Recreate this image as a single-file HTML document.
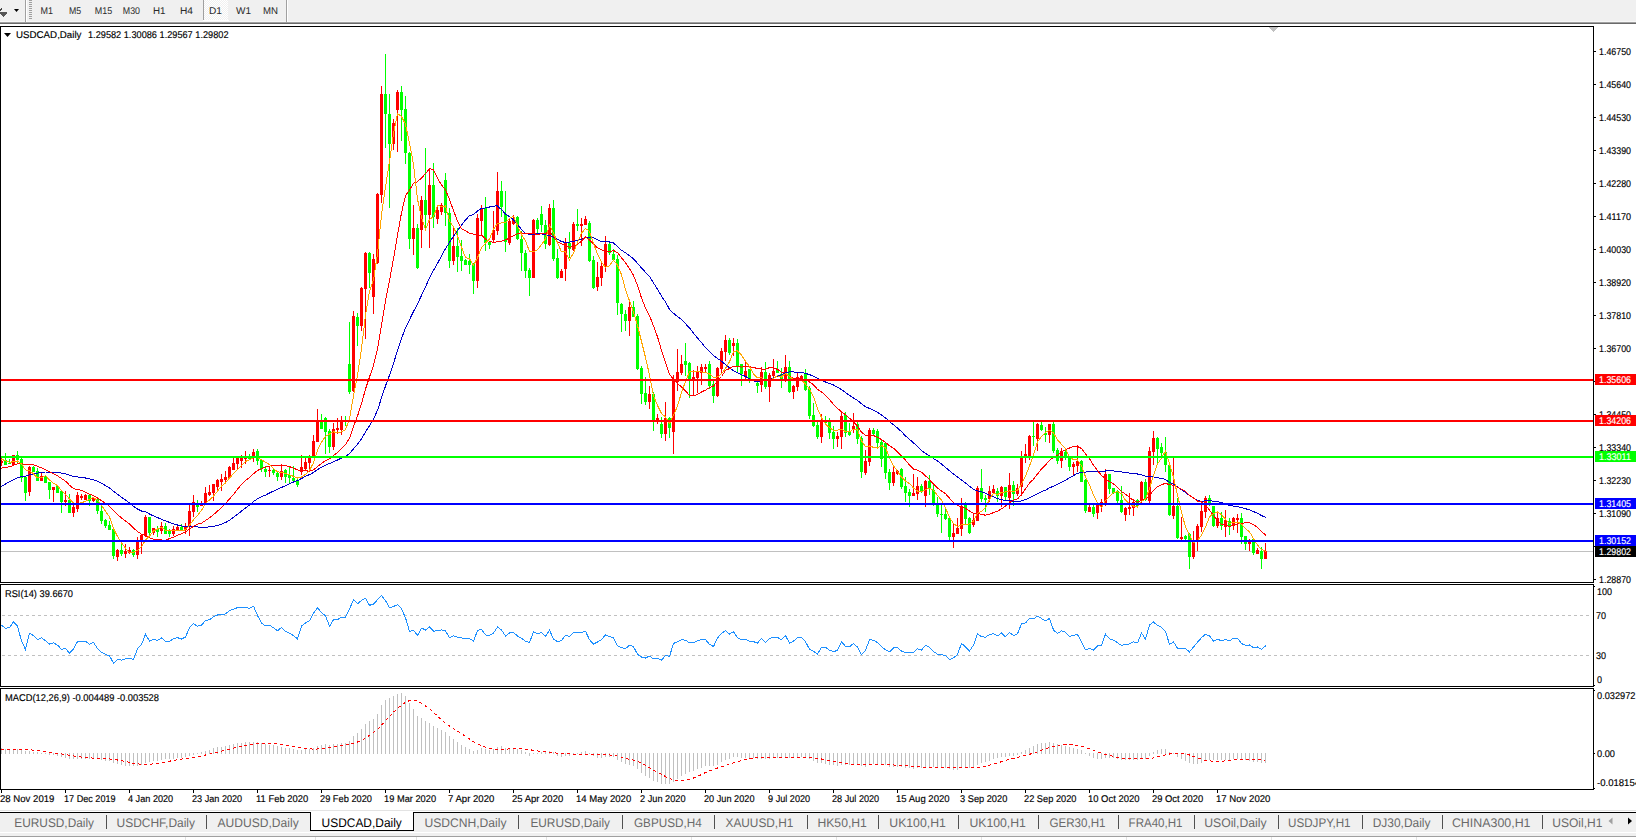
<!DOCTYPE html><html><head><meta charset="utf-8"><style>html,body{margin:0;padding:0;background:#fff;overflow:hidden}svg{display:block}text{font-family:"Liberation Sans",Arial,sans-serif;text-rendering:geometricPrecision;stroke:currentColor;stroke-width:0.15px}</style></head><body>
<svg width="1636" height="840" viewBox="0 0 1636 840" shape-rendering="crispEdges">
<rect x="0" y="0" width="1636" height="22" fill="#f0f0f0"/>
<rect x="0" y="21" width="1636" height="1" fill="#f7f7f7"/>
<rect x="0" y="22" width="1636" height="1" fill="#a0a0a0"/>
<rect x="0" y="23" width="1636" height="1" fill="#6a6a6a"/>
<path d="M0 11 L2 9 L2 8 L1 8 L0 9 Z" fill="#444"/>
<path d="M0 12 L7 12 L7 14 L3.5 17 L0 14 Z" fill="#555"/>
<path d="M14 9 L19 9 L16.5 12 Z" fill="#000" shape-rendering="auto"/>
<rect x="25" y="0" width="1" height="22" fill="#a0a0a0"/><rect x="26" y="0" width="1" height="22" fill="#fff"/>
<rect x="203" y="0" width="1" height="20" fill="#a0a0a0"/><rect x="204" y="0" width="1" height="20" fill="#fff"/>
<rect x="286" y="0" width="1" height="22" fill="#a0a0a0"/><rect x="287" y="0" width="1" height="22" fill="#fff"/>
<rect x="203" y="20" width="26" height="1" fill="#fff"/>
<rect x="29" y="0" width="3" height="1" fill="#a0a0a0"/>
<rect x="29" y="2" width="3" height="1" fill="#a0a0a0"/>
<rect x="29" y="4" width="3" height="1" fill="#a0a0a0"/>
<rect x="29" y="6" width="3" height="1" fill="#a0a0a0"/>
<rect x="29" y="8" width="3" height="1" fill="#a0a0a0"/>
<rect x="29" y="10" width="3" height="1" fill="#a0a0a0"/>
<rect x="29" y="12" width="3" height="1" fill="#a0a0a0"/>
<rect x="29" y="14" width="3" height="1" fill="#a0a0a0"/>
<rect x="29" y="16" width="3" height="1" fill="#a0a0a0"/>
<rect x="29" y="18" width="3" height="1" fill="#a0a0a0"/>
<defs><pattern id="dith" width="2" height="2" patternUnits="userSpaceOnUse"><rect width="2" height="2" fill="#f0f0f0"/><rect width="1" height="1" fill="#fff"/><rect x="1" y="1" width="1" height="1" fill="#fff"/></pattern></defs>
<rect x="204" y="0" width="24" height="20" fill="url(#dith)"/>
<text x="40.6" y="14" font-size="9.8" fill="#2a2a2a" color="#2a2a2a" textLength="12.5" lengthAdjust="spacingAndGlyphs" style="stroke-width:0">M1</text>
<text x="68.9" y="14" font-size="9.8" fill="#2a2a2a" color="#2a2a2a" textLength="12.2" lengthAdjust="spacingAndGlyphs" style="stroke-width:0">M5</text>
<text x="94.8" y="14" font-size="9.8" fill="#2a2a2a" color="#2a2a2a" textLength="17.4" lengthAdjust="spacingAndGlyphs" style="stroke-width:0">M15</text>
<text x="122.8" y="14" font-size="9.8" fill="#2a2a2a" color="#2a2a2a" textLength="17.2" lengthAdjust="spacingAndGlyphs" style="stroke-width:0">M30</text>
<text x="153" y="14" font-size="9.8" fill="#2a2a2a" color="#2a2a2a" textLength="12.5" lengthAdjust="spacingAndGlyphs" style="stroke-width:0">H1</text>
<text x="180" y="14" font-size="9.8" fill="#2a2a2a" color="#2a2a2a" textLength="13" lengthAdjust="spacingAndGlyphs" style="stroke-width:0">H4</text>
<text x="209" y="14" font-size="9.8" fill="#2a2a2a" color="#2a2a2a" textLength="13" lengthAdjust="spacingAndGlyphs" style="stroke-width:0">D1</text>
<text x="236" y="14" font-size="9.8" fill="#2a2a2a" color="#2a2a2a" textLength="15" lengthAdjust="spacingAndGlyphs" style="stroke-width:0">W1</text>
<text x="263" y="14" font-size="9.8" fill="#2a2a2a" color="#2a2a2a" textLength="15" lengthAdjust="spacingAndGlyphs" style="stroke-width:0">MN</text>
<rect x="0" y="24" width="1636" height="2" fill="#fff"/>
<rect x="0" y="26" width="1594" height="1" fill="#000"/>
<rect x="0" y="26" width="1" height="557" fill="#000"/>
<rect x="1593" y="26" width="1" height="557" fill="#000"/>
<rect x="0" y="582" width="1594" height="1" fill="#000"/>
<rect x="0" y="584" width="1594" height="1" fill="#000"/>
<rect x="0" y="584" width="1" height="103" fill="#000"/>
<rect x="1593" y="584" width="1" height="103" fill="#000"/>
<rect x="0" y="686" width="1594" height="1" fill="#000"/>
<rect x="0" y="688" width="1594" height="1" fill="#000"/>
<rect x="0" y="688" width="1" height="102" fill="#000"/>
<rect x="1593" y="688" width="1" height="102" fill="#000"/>
<rect x="0" y="789" width="1594" height="1" fill="#000"/>
<defs><clipPath id="cm"><rect x="1" y="27" width="1592" height="555"/></clipPath><clipPath id="cr"><rect x="1" y="585" width="1592" height="101"/></clipPath><clipPath id="cc"><rect x="1" y="689" width="1592" height="100"/></clipPath></defs>
<g clip-path="url(#cm)">
<rect x="1" y="551" width="1592" height="1" fill="#c0c0c0"/>
<rect x="1" y="458" width="1" height="8" fill="#ff0000"/><rect x="0" y="461" width="3" height="2" fill="#ff0000"/>
<rect x="5" y="453" width="1" height="12" fill="#00ff00"/><rect x="4" y="460" width="3" height="5" fill="#00ff00"/>
<rect x="9" y="459" width="1" height="5" fill="#00ff00"/><rect x="8" y="463" width="3" height="1" fill="#00ff00"/>
<rect x="13" y="455" width="1" height="10" fill="#ff0000"/><rect x="12" y="455" width="3" height="10" fill="#ff0000"/>
<rect x="17" y="451" width="1" height="12" fill="#00ff00"/><rect x="16" y="455" width="3" height="5" fill="#00ff00"/>
<rect x="21" y="458" width="1" height="24" fill="#00ff00"/><rect x="20" y="459" width="3" height="19" fill="#00ff00"/>
<rect x="25" y="477" width="1" height="24" fill="#00ff00"/><rect x="24" y="477" width="3" height="16" fill="#00ff00"/>
<rect x="29" y="466" width="1" height="30" fill="#ff0000"/><rect x="28" y="467" width="3" height="25" fill="#ff0000"/>
<rect x="33" y="466" width="1" height="6" fill="#00ff00"/><rect x="32" y="467" width="3" height="5" fill="#00ff00"/>
<rect x="37" y="468" width="1" height="13" fill="#00ff00"/><rect x="36" y="471" width="3" height="10" fill="#00ff00"/>
<rect x="41" y="473" width="1" height="8" fill="#ff0000"/><rect x="40" y="476" width="3" height="5" fill="#ff0000"/>
<rect x="45" y="475" width="1" height="8" fill="#00ff00"/><rect x="44" y="476" width="3" height="7" fill="#00ff00"/>
<rect x="49" y="482" width="1" height="17" fill="#00ff00"/><rect x="48" y="482" width="3" height="8" fill="#00ff00"/>
<rect x="53" y="487" width="1" height="15" fill="#ff0000"/><rect x="52" y="487" width="3" height="3" fill="#ff0000"/>
<rect x="57" y="486" width="1" height="7" fill="#00ff00"/><rect x="56" y="486" width="3" height="7" fill="#00ff00"/>
<rect x="61" y="491" width="1" height="22" fill="#00ff00"/><rect x="60" y="491" width="3" height="11" fill="#00ff00"/>
<rect x="65" y="491" width="1" height="15" fill="#ff0000"/><rect x="64" y="500" width="3" height="2" fill="#ff0000"/>
<rect x="69" y="494" width="1" height="19" fill="#00ff00"/><rect x="68" y="500" width="3" height="13" fill="#00ff00"/>
<rect x="73" y="505" width="1" height="12" fill="#ff0000"/><rect x="72" y="507" width="3" height="6" fill="#ff0000"/>
<rect x="77" y="492" width="1" height="20" fill="#ff0000"/><rect x="76" y="495" width="3" height="14" fill="#ff0000"/>
<rect x="81" y="494" width="1" height="6" fill="#ff0000"/><rect x="80" y="496" width="3" height="2" fill="#ff0000"/>
<rect x="85" y="494" width="1" height="6" fill="#ff0000"/><rect x="84" y="495" width="3" height="5" fill="#ff0000"/>
<rect x="89" y="494" width="1" height="12" fill="#00ff00"/><rect x="88" y="495" width="3" height="6" fill="#00ff00"/>
<rect x="93" y="497" width="1" height="5" fill="#ff0000"/><rect x="92" y="498" width="3" height="3" fill="#ff0000"/>
<rect x="97" y="498" width="1" height="16" fill="#00ff00"/><rect x="96" y="499" width="3" height="12" fill="#00ff00"/>
<rect x="101" y="505" width="1" height="19" fill="#00ff00"/><rect x="100" y="511" width="3" height="10" fill="#00ff00"/>
<rect x="105" y="519" width="1" height="9" fill="#00ff00"/><rect x="104" y="520" width="3" height="6" fill="#00ff00"/>
<rect x="109" y="521" width="1" height="9" fill="#00ff00"/><rect x="108" y="525" width="3" height="5" fill="#00ff00"/>
<rect x="113" y="529" width="1" height="30" fill="#00ff00"/><rect x="112" y="529" width="3" height="27" fill="#00ff00"/>
<rect x="117" y="549" width="1" height="12" fill="#ff0000"/><rect x="116" y="550" width="3" height="7" fill="#ff0000"/>
<rect x="121" y="543" width="1" height="13" fill="#00ff00"/><rect x="120" y="550" width="3" height="4" fill="#00ff00"/>
<rect x="125" y="544" width="1" height="14" fill="#ff0000"/><rect x="124" y="551" width="3" height="3" fill="#ff0000"/>
<rect x="129" y="547" width="1" height="7" fill="#ff0000"/><rect x="128" y="550" width="3" height="3" fill="#ff0000"/>
<rect x="133" y="549" width="1" height="8" fill="#00ff00"/><rect x="132" y="550" width="3" height="5" fill="#00ff00"/>
<rect x="137" y="537" width="1" height="22" fill="#ff0000"/><rect x="136" y="541" width="3" height="14" fill="#ff0000"/>
<rect x="141" y="534" width="1" height="20" fill="#ff0000"/><rect x="140" y="535" width="3" height="6" fill="#ff0000"/>
<rect x="145" y="515" width="1" height="22" fill="#ff0000"/><rect x="144" y="517" width="3" height="18" fill="#ff0000"/>
<rect x="149" y="517" width="1" height="18" fill="#00ff00"/><rect x="148" y="517" width="3" height="16" fill="#00ff00"/>
<rect x="153" y="528" width="1" height="7" fill="#ff0000"/><rect x="152" y="528" width="3" height="5" fill="#ff0000"/>
<rect x="157" y="526" width="1" height="11" fill="#00ff00"/><rect x="156" y="529" width="3" height="3" fill="#00ff00"/>
<rect x="161" y="522" width="1" height="12" fill="#ff0000"/><rect x="160" y="526" width="3" height="5" fill="#ff0000"/>
<rect x="165" y="523" width="1" height="11" fill="#00ff00"/><rect x="164" y="526" width="3" height="8" fill="#00ff00"/>
<rect x="169" y="529" width="1" height="8" fill="#00ff00"/><rect x="168" y="531" width="3" height="3" fill="#00ff00"/>
<rect x="173" y="526" width="1" height="10" fill="#ff0000"/><rect x="172" y="529" width="3" height="5" fill="#ff0000"/>
<rect x="177" y="525" width="1" height="6" fill="#ff0000"/><rect x="176" y="527" width="3" height="3" fill="#ff0000"/>
<rect x="181" y="524" width="1" height="7" fill="#00ff00"/><rect x="180" y="527" width="3" height="4" fill="#00ff00"/>
<rect x="185" y="523" width="1" height="11" fill="#ff0000"/><rect x="184" y="527" width="3" height="3" fill="#ff0000"/>
<rect x="189" y="505" width="1" height="31" fill="#ff0000"/><rect x="188" y="511" width="3" height="16" fill="#ff0000"/>
<rect x="193" y="495" width="1" height="22" fill="#ff0000"/><rect x="192" y="502" width="3" height="10" fill="#ff0000"/>
<rect x="197" y="500" width="1" height="12" fill="#00ff00"/><rect x="196" y="503" width="3" height="4" fill="#00ff00"/>
<rect x="201" y="501" width="1" height="5" fill="#ff0000"/><rect x="200" y="504" width="3" height="2" fill="#ff0000"/>
<rect x="205" y="487" width="1" height="18" fill="#ff0000"/><rect x="204" y="493" width="3" height="11" fill="#ff0000"/>
<rect x="209" y="485" width="1" height="11" fill="#ff0000"/><rect x="208" y="492" width="3" height="3" fill="#ff0000"/>
<rect x="213" y="484" width="1" height="17" fill="#ff0000"/><rect x="212" y="484" width="3" height="9" fill="#ff0000"/>
<rect x="217" y="479" width="1" height="11" fill="#ff0000"/><rect x="216" y="480" width="3" height="7" fill="#ff0000"/>
<rect x="221" y="474" width="1" height="17" fill="#ff0000"/><rect x="220" y="479" width="3" height="3" fill="#ff0000"/>
<rect x="225" y="471" width="1" height="11" fill="#ff0000"/><rect x="224" y="477" width="3" height="3" fill="#ff0000"/>
<rect x="229" y="466" width="1" height="13" fill="#ff0000"/><rect x="228" y="467" width="3" height="11" fill="#ff0000"/>
<rect x="233" y="458" width="1" height="12" fill="#ff0000"/><rect x="232" y="463" width="3" height="7" fill="#ff0000"/>
<rect x="237" y="458" width="1" height="11" fill="#ff0000"/><rect x="236" y="458" width="3" height="6" fill="#ff0000"/>
<rect x="241" y="455" width="1" height="13" fill="#ff0000"/><rect x="240" y="458" width="3" height="3" fill="#ff0000"/>
<rect x="245" y="451" width="1" height="13" fill="#ff0000"/><rect x="244" y="458" width="3" height="1" fill="#ff0000"/>
<rect x="249" y="454" width="1" height="5" fill="#00ff00"/><rect x="248" y="456" width="3" height="3" fill="#00ff00"/>
<rect x="253" y="449" width="1" height="13" fill="#ff0000"/><rect x="252" y="452" width="3" height="4" fill="#ff0000"/>
<rect x="257" y="449" width="1" height="16" fill="#00ff00"/><rect x="256" y="451" width="3" height="10" fill="#00ff00"/>
<rect x="261" y="460" width="1" height="12" fill="#00ff00"/><rect x="260" y="460" width="3" height="9" fill="#00ff00"/>
<rect x="265" y="466" width="1" height="11" fill="#00ff00"/><rect x="264" y="469" width="3" height="3" fill="#00ff00"/>
<rect x="269" y="466" width="1" height="11" fill="#ff0000"/><rect x="268" y="470" width="3" height="1" fill="#ff0000"/>
<rect x="273" y="469" width="1" height="6" fill="#00ff00"/><rect x="272" y="470" width="3" height="3" fill="#00ff00"/>
<rect x="277" y="472" width="1" height="9" fill="#00ff00"/><rect x="276" y="473" width="3" height="4" fill="#00ff00"/>
<rect x="281" y="464" width="1" height="16" fill="#ff0000"/><rect x="280" y="471" width="3" height="6" fill="#ff0000"/>
<rect x="285" y="469" width="1" height="14" fill="#00ff00"/><rect x="284" y="470" width="3" height="7" fill="#00ff00"/>
<rect x="289" y="467" width="1" height="16" fill="#00ff00"/><rect x="288" y="475" width="3" height="3" fill="#00ff00"/>
<rect x="293" y="466" width="1" height="15" fill="#00ff00"/><rect x="292" y="478" width="3" height="3" fill="#00ff00"/>
<rect x="297" y="479" width="1" height="8" fill="#00ff00"/><rect x="296" y="480" width="3" height="5" fill="#00ff00"/>
<rect x="301" y="455" width="1" height="20" fill="#ff0000"/><rect x="300" y="467" width="3" height="5" fill="#ff0000"/>
<rect x="305" y="458" width="1" height="12" fill="#ff0000"/><rect x="304" y="462" width="3" height="7" fill="#ff0000"/>
<rect x="309" y="455" width="1" height="14" fill="#ff0000"/><rect x="308" y="458" width="3" height="5" fill="#ff0000"/>
<rect x="313" y="435" width="1" height="22" fill="#ff0000"/><rect x="312" y="441" width="3" height="16" fill="#ff0000"/>
<rect x="317" y="409" width="1" height="33" fill="#ff0000"/><rect x="316" y="422" width="3" height="20" fill="#ff0000"/>
<rect x="321" y="414" width="1" height="15" fill="#00ff00"/><rect x="320" y="421" width="3" height="8" fill="#00ff00"/>
<rect x="325" y="417" width="1" height="37" fill="#00ff00"/><rect x="324" y="418" width="3" height="14" fill="#00ff00"/>
<rect x="329" y="429" width="1" height="24" fill="#00ff00"/><rect x="328" y="431" width="3" height="16" fill="#00ff00"/>
<rect x="333" y="423" width="1" height="27" fill="#ff0000"/><rect x="332" y="429" width="3" height="18" fill="#ff0000"/>
<rect x="337" y="418" width="1" height="16" fill="#ff0000"/><rect x="336" y="428" width="3" height="2" fill="#ff0000"/>
<rect x="341" y="416" width="1" height="19" fill="#ff0000"/><rect x="340" y="422" width="3" height="8" fill="#ff0000"/>
<rect x="345" y="416" width="1" height="10" fill="#00ff00"/><rect x="344" y="420" width="3" height="2" fill="#00ff00"/>
<rect x="349" y="322" width="1" height="72" fill="#00ff00"/><rect x="348" y="364" width="3" height="28" fill="#00ff00"/>
<rect x="353" y="311" width="1" height="81" fill="#ff0000"/><rect x="352" y="316" width="3" height="75" fill="#ff0000"/>
<rect x="357" y="313" width="1" height="33" fill="#00ff00"/><rect x="356" y="317" width="3" height="9" fill="#00ff00"/>
<rect x="361" y="287" width="1" height="44" fill="#ff0000"/><rect x="360" y="288" width="3" height="38" fill="#ff0000"/>
<rect x="365" y="252" width="1" height="87" fill="#ff0000"/><rect x="364" y="253" width="3" height="36" fill="#ff0000"/>
<rect x="369" y="252" width="1" height="36" fill="#00ff00"/><rect x="368" y="253" width="3" height="20" fill="#00ff00"/>
<rect x="373" y="254" width="1" height="60" fill="#ff0000"/><rect x="372" y="259" width="3" height="38" fill="#ff0000"/>
<rect x="377" y="193" width="1" height="71" fill="#ff0000"/><rect x="376" y="194" width="3" height="69" fill="#ff0000"/>
<rect x="381" y="86" width="1" height="117" fill="#ff0000"/><rect x="380" y="94" width="3" height="101" fill="#ff0000"/>
<rect x="385" y="54" width="1" height="94" fill="#00ff00"/><rect x="384" y="94" width="3" height="20" fill="#00ff00"/>
<rect x="389" y="94" width="1" height="114" fill="#00ff00"/><rect x="388" y="114" width="3" height="30" fill="#00ff00"/>
<rect x="393" y="119" width="1" height="31" fill="#ff0000"/><rect x="392" y="123" width="3" height="21" fill="#ff0000"/>
<rect x="397" y="90" width="1" height="62" fill="#ff0000"/><rect x="396" y="92" width="3" height="18" fill="#ff0000"/>
<rect x="401" y="86" width="1" height="55" fill="#00ff00"/><rect x="400" y="92" width="3" height="18" fill="#00ff00"/>
<rect x="405" y="96" width="1" height="68" fill="#00ff00"/><rect x="404" y="109" width="3" height="44" fill="#00ff00"/>
<rect x="409" y="152" width="1" height="97" fill="#00ff00"/><rect x="408" y="153" width="3" height="86" fill="#00ff00"/>
<rect x="413" y="205" width="1" height="50" fill="#ff0000"/><rect x="412" y="228" width="3" height="11" fill="#ff0000"/>
<rect x="417" y="224" width="1" height="45" fill="#00ff00"/><rect x="416" y="228" width="3" height="40" fill="#00ff00"/>
<rect x="421" y="196" width="1" height="52" fill="#ff0000"/><rect x="420" y="200" width="3" height="30" fill="#ff0000"/>
<rect x="425" y="148" width="1" height="82" fill="#00ff00"/><rect x="424" y="200" width="3" height="15" fill="#00ff00"/>
<rect x="429" y="169" width="1" height="79" fill="#ff0000"/><rect x="428" y="185" width="3" height="30" fill="#ff0000"/>
<rect x="433" y="163" width="1" height="65" fill="#00ff00"/><rect x="432" y="185" width="3" height="32" fill="#00ff00"/>
<rect x="437" y="205" width="1" height="19" fill="#ff0000"/><rect x="436" y="210" width="3" height="9" fill="#ff0000"/>
<rect x="441" y="203" width="1" height="12" fill="#ff0000"/><rect x="440" y="205" width="3" height="7" fill="#ff0000"/>
<rect x="445" y="173" width="1" height="53" fill="#00ff00"/><rect x="444" y="180" width="3" height="33" fill="#00ff00"/>
<rect x="449" y="208" width="1" height="60" fill="#00ff00"/><rect x="448" y="213" width="3" height="48" fill="#00ff00"/>
<rect x="453" y="228" width="1" height="37" fill="#ff0000"/><rect x="452" y="246" width="3" height="15" fill="#ff0000"/>
<rect x="457" y="228" width="1" height="44" fill="#00ff00"/><rect x="456" y="246" width="3" height="11" fill="#00ff00"/>
<rect x="461" y="240" width="1" height="31" fill="#00ff00"/><rect x="460" y="256" width="3" height="5" fill="#00ff00"/>
<rect x="465" y="259" width="1" height="6" fill="#00ff00"/><rect x="464" y="260" width="3" height="5" fill="#00ff00"/>
<rect x="469" y="254" width="1" height="20" fill="#00ff00"/><rect x="468" y="261" width="3" height="4" fill="#00ff00"/>
<rect x="473" y="263" width="1" height="31" fill="#00ff00"/><rect x="472" y="264" width="3" height="17" fill="#00ff00"/>
<rect x="477" y="214" width="1" height="74" fill="#ff0000"/><rect x="476" y="218" width="3" height="63" fill="#ff0000"/>
<rect x="481" y="205" width="1" height="30" fill="#ff0000"/><rect x="480" y="209" width="3" height="12" fill="#ff0000"/>
<rect x="485" y="197" width="1" height="54" fill="#00ff00"/><rect x="484" y="208" width="3" height="35" fill="#00ff00"/>
<rect x="489" y="241" width="1" height="8" fill="#00ff00"/><rect x="488" y="242" width="3" height="3" fill="#00ff00"/>
<rect x="493" y="211" width="1" height="32" fill="#ff0000"/><rect x="492" y="230" width="3" height="10" fill="#ff0000"/>
<rect x="497" y="172" width="1" height="63" fill="#ff0000"/><rect x="496" y="191" width="3" height="40" fill="#ff0000"/>
<rect x="501" y="181" width="1" height="36" fill="#00ff00"/><rect x="500" y="191" width="3" height="16" fill="#00ff00"/>
<rect x="505" y="191" width="1" height="61" fill="#00ff00"/><rect x="504" y="214" width="3" height="28" fill="#00ff00"/>
<rect x="509" y="218" width="1" height="27" fill="#ff0000"/><rect x="508" y="221" width="3" height="22" fill="#ff0000"/>
<rect x="513" y="215" width="1" height="10" fill="#ff0000"/><rect x="512" y="219" width="3" height="5" fill="#ff0000"/>
<rect x="517" y="216" width="1" height="24" fill="#00ff00"/><rect x="516" y="217" width="3" height="22" fill="#00ff00"/>
<rect x="521" y="231" width="1" height="40" fill="#00ff00"/><rect x="520" y="239" width="3" height="14" fill="#00ff00"/>
<rect x="525" y="250" width="1" height="28" fill="#00ff00"/><rect x="524" y="253" width="3" height="18" fill="#00ff00"/>
<rect x="529" y="268" width="1" height="28" fill="#00ff00"/><rect x="528" y="270" width="3" height="8" fill="#00ff00"/>
<rect x="533" y="219" width="1" height="59" fill="#ff0000"/><rect x="532" y="220" width="3" height="58" fill="#ff0000"/>
<rect x="537" y="218" width="1" height="15" fill="#00ff00"/><rect x="536" y="220" width="3" height="9" fill="#00ff00"/>
<rect x="541" y="206" width="1" height="26" fill="#00ff00"/><rect x="540" y="214" width="3" height="11" fill="#00ff00"/>
<rect x="545" y="220" width="1" height="29" fill="#00ff00"/><rect x="544" y="225" width="3" height="19" fill="#00ff00"/>
<rect x="549" y="204" width="1" height="42" fill="#ff0000"/><rect x="548" y="208" width="3" height="37" fill="#ff0000"/>
<rect x="553" y="200" width="1" height="61" fill="#00ff00"/><rect x="552" y="208" width="3" height="51" fill="#00ff00"/>
<rect x="557" y="249" width="1" height="30" fill="#00ff00"/><rect x="556" y="258" width="3" height="20" fill="#00ff00"/>
<rect x="561" y="269" width="1" height="9" fill="#ff0000"/><rect x="560" y="271" width="3" height="7" fill="#ff0000"/>
<rect x="565" y="238" width="1" height="43" fill="#ff0000"/><rect x="564" y="242" width="3" height="27" fill="#ff0000"/>
<rect x="569" y="232" width="1" height="26" fill="#00ff00"/><rect x="568" y="243" width="3" height="6" fill="#00ff00"/>
<rect x="573" y="222" width="1" height="29" fill="#ff0000"/><rect x="572" y="224" width="3" height="26" fill="#ff0000"/>
<rect x="577" y="209" width="1" height="22" fill="#00ff00"/><rect x="576" y="224" width="3" height="2" fill="#00ff00"/>
<rect x="581" y="218" width="1" height="28" fill="#ff0000"/><rect x="580" y="224" width="3" height="2" fill="#ff0000"/>
<rect x="585" y="216" width="1" height="9" fill="#ff0000"/><rect x="584" y="219" width="3" height="6" fill="#ff0000"/>
<rect x="589" y="221" width="1" height="41" fill="#00ff00"/><rect x="588" y="223" width="3" height="38" fill="#00ff00"/>
<rect x="593" y="256" width="1" height="33" fill="#00ff00"/><rect x="592" y="260" width="3" height="28" fill="#00ff00"/>
<rect x="597" y="262" width="1" height="29" fill="#ff0000"/><rect x="596" y="277" width="3" height="10" fill="#ff0000"/>
<rect x="601" y="262" width="1" height="24" fill="#ff0000"/><rect x="600" y="266" width="3" height="12" fill="#ff0000"/>
<rect x="605" y="236" width="1" height="36" fill="#ff0000"/><rect x="604" y="244" width="3" height="22" fill="#ff0000"/>
<rect x="609" y="242" width="1" height="13" fill="#00ff00"/><rect x="608" y="244" width="3" height="9" fill="#00ff00"/>
<rect x="613" y="249" width="1" height="12" fill="#00ff00"/><rect x="612" y="254" width="3" height="6" fill="#00ff00"/>
<rect x="617" y="255" width="1" height="60" fill="#00ff00"/><rect x="616" y="259" width="3" height="44" fill="#00ff00"/>
<rect x="621" y="303" width="1" height="29" fill="#00ff00"/><rect x="620" y="304" width="3" height="10" fill="#00ff00"/>
<rect x="625" y="310" width="1" height="21" fill="#00ff00"/><rect x="624" y="314" width="3" height="7" fill="#00ff00"/>
<rect x="629" y="302" width="1" height="34" fill="#ff0000"/><rect x="628" y="307" width="3" height="14" fill="#ff0000"/>
<rect x="633" y="301" width="1" height="16" fill="#00ff00"/><rect x="632" y="307" width="3" height="10" fill="#00ff00"/>
<rect x="637" y="314" width="1" height="56" fill="#00ff00"/><rect x="636" y="316" width="3" height="53" fill="#00ff00"/>
<rect x="641" y="366" width="1" height="38" fill="#00ff00"/><rect x="640" y="368" width="3" height="26" fill="#00ff00"/>
<rect x="645" y="377" width="1" height="28" fill="#00ff00"/><rect x="644" y="393" width="3" height="9" fill="#00ff00"/>
<rect x="649" y="386" width="1" height="23" fill="#ff0000"/><rect x="648" y="394" width="3" height="8" fill="#ff0000"/>
<rect x="653" y="392" width="1" height="39" fill="#00ff00"/><rect x="652" y="394" width="3" height="27" fill="#00ff00"/>
<rect x="657" y="414" width="1" height="10" fill="#ff0000"/><rect x="656" y="418" width="3" height="3" fill="#ff0000"/>
<rect x="661" y="417" width="1" height="21" fill="#00ff00"/><rect x="660" y="424" width="3" height="10" fill="#00ff00"/>
<rect x="665" y="402" width="1" height="39" fill="#ff0000"/><rect x="664" y="418" width="3" height="16" fill="#ff0000"/>
<rect x="669" y="417" width="1" height="21" fill="#00ff00"/><rect x="668" y="418" width="3" height="10" fill="#00ff00"/>
<rect x="673" y="375" width="1" height="79" fill="#ff0000"/><rect x="672" y="379" width="3" height="53" fill="#ff0000"/>
<rect x="677" y="349" width="1" height="42" fill="#ff0000"/><rect x="676" y="372" width="3" height="10" fill="#ff0000"/>
<rect x="681" y="355" width="1" height="20" fill="#ff0000"/><rect x="680" y="364" width="3" height="9" fill="#ff0000"/>
<rect x="685" y="343" width="1" height="33" fill="#00ff00"/><rect x="684" y="361" width="3" height="4" fill="#00ff00"/>
<rect x="689" y="362" width="1" height="36" fill="#00ff00"/><rect x="688" y="363" width="3" height="16" fill="#00ff00"/>
<rect x="693" y="370" width="1" height="26" fill="#ff0000"/><rect x="692" y="377" width="3" height="2" fill="#ff0000"/>
<rect x="697" y="366" width="1" height="27" fill="#ff0000"/><rect x="696" y="371" width="3" height="7" fill="#ff0000"/>
<rect x="701" y="364" width="1" height="21" fill="#ff0000"/><rect x="700" y="367" width="3" height="6" fill="#ff0000"/>
<rect x="705" y="364" width="1" height="9" fill="#ff0000"/><rect x="704" y="367" width="3" height="2" fill="#ff0000"/>
<rect x="709" y="361" width="1" height="28" fill="#00ff00"/><rect x="708" y="364" width="3" height="22" fill="#00ff00"/>
<rect x="713" y="379" width="1" height="24" fill="#00ff00"/><rect x="712" y="384" width="3" height="12" fill="#00ff00"/>
<rect x="717" y="367" width="1" height="30" fill="#ff0000"/><rect x="716" y="368" width="3" height="28" fill="#ff0000"/>
<rect x="721" y="348" width="1" height="25" fill="#ff0000"/><rect x="720" y="351" width="3" height="18" fill="#ff0000"/>
<rect x="725" y="335" width="1" height="26" fill="#ff0000"/><rect x="724" y="340" width="3" height="12" fill="#ff0000"/>
<rect x="729" y="338" width="1" height="17" fill="#00ff00"/><rect x="728" y="340" width="3" height="13" fill="#00ff00"/>
<rect x="733" y="338" width="1" height="18" fill="#ff0000"/><rect x="732" y="343" width="3" height="3" fill="#ff0000"/>
<rect x="737" y="339" width="1" height="33" fill="#00ff00"/><rect x="736" y="343" width="3" height="23" fill="#00ff00"/>
<rect x="741" y="364" width="1" height="22" fill="#00ff00"/><rect x="740" y="364" width="3" height="10" fill="#00ff00"/>
<rect x="745" y="362" width="1" height="17" fill="#ff0000"/><rect x="744" y="371" width="3" height="6" fill="#ff0000"/>
<rect x="749" y="369" width="1" height="14" fill="#00ff00"/><rect x="748" y="369" width="3" height="10" fill="#00ff00"/>
<rect x="753" y="380" width="1" height="1" fill="#00ff00"/><rect x="752" y="380" width="3" height="1" fill="#00ff00"/>
<rect x="757" y="382" width="1" height="11" fill="#00ff00"/><rect x="756" y="383" width="3" height="3" fill="#00ff00"/>
<rect x="761" y="367" width="1" height="25" fill="#ff0000"/><rect x="760" y="372" width="3" height="13" fill="#ff0000"/>
<rect x="765" y="362" width="1" height="27" fill="#00ff00"/><rect x="764" y="372" width="3" height="15" fill="#00ff00"/>
<rect x="769" y="373" width="1" height="29" fill="#ff0000"/><rect x="768" y="375" width="3" height="12" fill="#ff0000"/>
<rect x="773" y="359" width="1" height="18" fill="#ff0000"/><rect x="772" y="371" width="3" height="5" fill="#ff0000"/>
<rect x="777" y="361" width="1" height="12" fill="#00ff00"/><rect x="776" y="370" width="3" height="3" fill="#00ff00"/>
<rect x="781" y="368" width="1" height="20" fill="#00ff00"/><rect x="780" y="374" width="3" height="5" fill="#00ff00"/>
<rect x="785" y="355" width="1" height="27" fill="#ff0000"/><rect x="784" y="367" width="3" height="13" fill="#ff0000"/>
<rect x="789" y="361" width="1" height="32" fill="#00ff00"/><rect x="788" y="367" width="3" height="25" fill="#00ff00"/>
<rect x="793" y="385" width="1" height="14" fill="#ff0000"/><rect x="792" y="386" width="3" height="6" fill="#ff0000"/>
<rect x="797" y="373" width="1" height="18" fill="#ff0000"/><rect x="796" y="377" width="3" height="10" fill="#ff0000"/>
<rect x="801" y="375" width="1" height="6" fill="#ff0000"/><rect x="800" y="376" width="3" height="4" fill="#ff0000"/>
<rect x="805" y="369" width="1" height="22" fill="#00ff00"/><rect x="804" y="374" width="3" height="16" fill="#00ff00"/>
<rect x="809" y="386" width="1" height="33" fill="#00ff00"/><rect x="808" y="388" width="3" height="28" fill="#00ff00"/>
<rect x="813" y="403" width="1" height="24" fill="#00ff00"/><rect x="812" y="415" width="3" height="11" fill="#00ff00"/>
<rect x="817" y="422" width="1" height="17" fill="#00ff00"/><rect x="816" y="425" width="3" height="12" fill="#00ff00"/>
<rect x="821" y="414" width="1" height="29" fill="#ff0000"/><rect x="820" y="420" width="3" height="17" fill="#ff0000"/>
<rect x="825" y="416" width="1" height="7" fill="#00ff00"/><rect x="824" y="420" width="3" height="3" fill="#00ff00"/>
<rect x="829" y="418" width="1" height="21" fill="#00ff00"/><rect x="828" y="421" width="3" height="12" fill="#00ff00"/>
<rect x="833" y="426" width="1" height="23" fill="#00ff00"/><rect x="832" y="432" width="3" height="7" fill="#00ff00"/>
<rect x="837" y="432" width="1" height="15" fill="#ff0000"/><rect x="836" y="436" width="3" height="3" fill="#ff0000"/>
<rect x="841" y="411" width="1" height="38" fill="#ff0000"/><rect x="840" y="416" width="3" height="21" fill="#ff0000"/>
<rect x="845" y="412" width="1" height="25" fill="#00ff00"/><rect x="844" y="415" width="3" height="18" fill="#00ff00"/>
<rect x="849" y="423" width="1" height="13" fill="#00ff00"/><rect x="848" y="432" width="3" height="3" fill="#00ff00"/>
<rect x="853" y="413" width="1" height="20" fill="#ff0000"/><rect x="852" y="426" width="3" height="3" fill="#ff0000"/>
<rect x="857" y="422" width="1" height="22" fill="#00ff00"/><rect x="856" y="424" width="3" height="15" fill="#00ff00"/>
<rect x="861" y="436" width="1" height="42" fill="#00ff00"/><rect x="860" y="438" width="3" height="34" fill="#00ff00"/>
<rect x="865" y="450" width="1" height="25" fill="#ff0000"/><rect x="864" y="461" width="3" height="12" fill="#ff0000"/>
<rect x="869" y="428" width="1" height="38" fill="#ff0000"/><rect x="868" y="430" width="3" height="32" fill="#ff0000"/>
<rect x="873" y="428" width="1" height="7" fill="#00ff00"/><rect x="872" y="430" width="3" height="4" fill="#00ff00"/>
<rect x="877" y="429" width="1" height="18" fill="#00ff00"/><rect x="876" y="431" width="3" height="12" fill="#00ff00"/>
<rect x="881" y="440" width="1" height="27" fill="#00ff00"/><rect x="880" y="442" width="3" height="17" fill="#00ff00"/>
<rect x="885" y="443" width="1" height="36" fill="#00ff00"/><rect x="884" y="443" width="3" height="30" fill="#00ff00"/>
<rect x="889" y="469" width="1" height="21" fill="#00ff00"/><rect x="888" y="472" width="3" height="11" fill="#00ff00"/>
<rect x="893" y="466" width="1" height="20" fill="#ff0000"/><rect x="892" y="472" width="3" height="11" fill="#ff0000"/>
<rect x="897" y="470" width="1" height="5" fill="#ff0000"/><rect x="896" y="471" width="3" height="3" fill="#ff0000"/>
<rect x="901" y="468" width="1" height="21" fill="#00ff00"/><rect x="900" y="469" width="3" height="18" fill="#00ff00"/>
<rect x="905" y="477" width="1" height="25" fill="#00ff00"/><rect x="904" y="486" width="3" height="7" fill="#00ff00"/>
<rect x="909" y="489" width="1" height="18" fill="#00ff00"/><rect x="908" y="492" width="3" height="4" fill="#00ff00"/>
<rect x="913" y="474" width="1" height="22" fill="#ff0000"/><rect x="912" y="493" width="3" height="3" fill="#ff0000"/>
<rect x="917" y="477" width="1" height="23" fill="#ff0000"/><rect x="916" y="486" width="3" height="8" fill="#ff0000"/>
<rect x="921" y="484" width="1" height="9" fill="#00ff00"/><rect x="920" y="486" width="3" height="5" fill="#00ff00"/>
<rect x="925" y="480" width="1" height="27" fill="#ff0000"/><rect x="924" y="481" width="3" height="15" fill="#ff0000"/>
<rect x="929" y="475" width="1" height="20" fill="#00ff00"/><rect x="928" y="481" width="3" height="8" fill="#00ff00"/>
<rect x="933" y="485" width="1" height="21" fill="#00ff00"/><rect x="932" y="490" width="3" height="13" fill="#00ff00"/>
<rect x="937" y="497" width="1" height="20" fill="#00ff00"/><rect x="936" y="505" width="3" height="9" fill="#00ff00"/>
<rect x="941" y="505" width="1" height="28" fill="#00ff00"/><rect x="940" y="514" width="3" height="1" fill="#00ff00"/>
<rect x="945" y="509" width="1" height="11" fill="#00ff00"/><rect x="944" y="514" width="3" height="5" fill="#00ff00"/>
<rect x="949" y="516" width="1" height="24" fill="#00ff00"/><rect x="948" y="518" width="3" height="19" fill="#00ff00"/>
<rect x="953" y="524" width="1" height="24" fill="#ff0000"/><rect x="952" y="533" width="3" height="4" fill="#ff0000"/>
<rect x="957" y="518" width="1" height="16" fill="#ff0000"/><rect x="956" y="528" width="3" height="6" fill="#ff0000"/>
<rect x="961" y="498" width="1" height="38" fill="#ff0000"/><rect x="960" y="506" width="3" height="23" fill="#ff0000"/>
<rect x="965" y="502" width="1" height="22" fill="#00ff00"/><rect x="964" y="505" width="3" height="14" fill="#00ff00"/>
<rect x="969" y="517" width="1" height="17" fill="#00ff00"/><rect x="968" y="518" width="3" height="15" fill="#00ff00"/>
<rect x="973" y="514" width="1" height="13" fill="#ff0000"/><rect x="972" y="520" width="3" height="5" fill="#ff0000"/>
<rect x="977" y="486" width="1" height="35" fill="#ff0000"/><rect x="976" y="488" width="3" height="33" fill="#ff0000"/>
<rect x="981" y="469" width="1" height="33" fill="#00ff00"/><rect x="980" y="488" width="3" height="11" fill="#00ff00"/>
<rect x="985" y="495" width="1" height="17" fill="#00ff00"/><rect x="984" y="498" width="3" height="2" fill="#00ff00"/>
<rect x="989" y="486" width="1" height="16" fill="#ff0000"/><rect x="988" y="491" width="3" height="8" fill="#ff0000"/>
<rect x="993" y="485" width="1" height="9" fill="#ff0000"/><rect x="992" y="489" width="3" height="4" fill="#ff0000"/>
<rect x="997" y="488" width="1" height="14" fill="#00ff00"/><rect x="996" y="491" width="3" height="5" fill="#00ff00"/>
<rect x="1001" y="486" width="1" height="21" fill="#ff0000"/><rect x="1000" y="487" width="3" height="9" fill="#ff0000"/>
<rect x="1005" y="487" width="1" height="13" fill="#00ff00"/><rect x="1004" y="487" width="3" height="10" fill="#00ff00"/>
<rect x="1009" y="473" width="1" height="36" fill="#ff0000"/><rect x="1008" y="485" width="3" height="13" fill="#ff0000"/>
<rect x="1013" y="481" width="1" height="25" fill="#00ff00"/><rect x="1012" y="485" width="3" height="9" fill="#00ff00"/>
<rect x="1017" y="484" width="1" height="12" fill="#ff0000"/><rect x="1016" y="488" width="3" height="6" fill="#ff0000"/>
<rect x="1021" y="451" width="1" height="45" fill="#ff0000"/><rect x="1020" y="458" width="3" height="29" fill="#ff0000"/>
<rect x="1025" y="444" width="1" height="19" fill="#ff0000"/><rect x="1024" y="454" width="3" height="3" fill="#ff0000"/>
<rect x="1029" y="435" width="1" height="25" fill="#ff0000"/><rect x="1028" y="436" width="3" height="20" fill="#ff0000"/>
<rect x="1033" y="422" width="1" height="24" fill="#00ff00"/><rect x="1032" y="436" width="3" height="1" fill="#00ff00"/>
<rect x="1037" y="423" width="1" height="28" fill="#ff0000"/><rect x="1036" y="424" width="3" height="15" fill="#ff0000"/>
<rect x="1041" y="422" width="1" height="9" fill="#00ff00"/><rect x="1040" y="425" width="3" height="5" fill="#00ff00"/>
<rect x="1045" y="427" width="1" height="15" fill="#00ff00"/><rect x="1044" y="433" width="3" height="2" fill="#00ff00"/>
<rect x="1049" y="424" width="1" height="19" fill="#ff0000"/><rect x="1048" y="424" width="3" height="11" fill="#ff0000"/>
<rect x="1053" y="422" width="1" height="31" fill="#00ff00"/><rect x="1052" y="424" width="3" height="27" fill="#00ff00"/>
<rect x="1057" y="448" width="1" height="16" fill="#00ff00"/><rect x="1056" y="450" width="3" height="11" fill="#00ff00"/>
<rect x="1061" y="448" width="1" height="20" fill="#ff0000"/><rect x="1060" y="451" width="3" height="10" fill="#ff0000"/>
<rect x="1065" y="450" width="1" height="10" fill="#00ff00"/><rect x="1064" y="452" width="3" height="4" fill="#00ff00"/>
<rect x="1069" y="457" width="1" height="14" fill="#00ff00"/><rect x="1068" y="458" width="3" height="9" fill="#00ff00"/>
<rect x="1073" y="462" width="1" height="13" fill="#ff0000"/><rect x="1072" y="464" width="3" height="3" fill="#ff0000"/>
<rect x="1077" y="445" width="1" height="27" fill="#ff0000"/><rect x="1076" y="461" width="3" height="5" fill="#ff0000"/>
<rect x="1081" y="460" width="1" height="22" fill="#00ff00"/><rect x="1080" y="461" width="3" height="21" fill="#00ff00"/>
<rect x="1085" y="479" width="1" height="34" fill="#00ff00"/><rect x="1084" y="480" width="3" height="31" fill="#00ff00"/>
<rect x="1089" y="505" width="1" height="7" fill="#ff0000"/><rect x="1088" y="507" width="3" height="5" fill="#ff0000"/>
<rect x="1093" y="505" width="1" height="12" fill="#00ff00"/><rect x="1092" y="507" width="3" height="7" fill="#00ff00"/>
<rect x="1097" y="503" width="1" height="16" fill="#ff0000"/><rect x="1096" y="504" width="3" height="9" fill="#ff0000"/>
<rect x="1101" y="499" width="1" height="13" fill="#ff0000"/><rect x="1100" y="502" width="3" height="5" fill="#ff0000"/>
<rect x="1105" y="469" width="1" height="37" fill="#ff0000"/><rect x="1104" y="474" width="3" height="29" fill="#ff0000"/>
<rect x="1109" y="474" width="1" height="20" fill="#00ff00"/><rect x="1108" y="474" width="3" height="15" fill="#00ff00"/>
<rect x="1113" y="488" width="1" height="6" fill="#00ff00"/><rect x="1112" y="488" width="3" height="5" fill="#00ff00"/>
<rect x="1117" y="490" width="1" height="13" fill="#00ff00"/><rect x="1116" y="491" width="3" height="10" fill="#00ff00"/>
<rect x="1121" y="486" width="1" height="27" fill="#00ff00"/><rect x="1120" y="500" width="3" height="12" fill="#00ff00"/>
<rect x="1125" y="507" width="1" height="14" fill="#ff0000"/><rect x="1124" y="508" width="3" height="7" fill="#ff0000"/>
<rect x="1129" y="493" width="1" height="22" fill="#ff0000"/><rect x="1128" y="507" width="3" height="2" fill="#ff0000"/>
<rect x="1133" y="499" width="1" height="17" fill="#ff0000"/><rect x="1132" y="502" width="3" height="6" fill="#ff0000"/>
<rect x="1137" y="499" width="1" height="8" fill="#00ff00"/><rect x="1136" y="500" width="3" height="6" fill="#00ff00"/>
<rect x="1141" y="481" width="1" height="23" fill="#ff0000"/><rect x="1140" y="482" width="3" height="19" fill="#ff0000"/>
<rect x="1145" y="479" width="1" height="22" fill="#00ff00"/><rect x="1144" y="482" width="3" height="18" fill="#00ff00"/>
<rect x="1149" y="447" width="1" height="56" fill="#ff0000"/><rect x="1148" y="451" width="3" height="50" fill="#ff0000"/>
<rect x="1153" y="431" width="1" height="34" fill="#ff0000"/><rect x="1152" y="438" width="3" height="14" fill="#ff0000"/>
<rect x="1157" y="437" width="1" height="28" fill="#00ff00"/><rect x="1156" y="438" width="3" height="11" fill="#00ff00"/>
<rect x="1161" y="443" width="1" height="13" fill="#00ff00"/><rect x="1160" y="447" width="3" height="6" fill="#00ff00"/>
<rect x="1165" y="437" width="1" height="35" fill="#00ff00"/><rect x="1164" y="452" width="3" height="13" fill="#00ff00"/>
<rect x="1169" y="464" width="1" height="52" fill="#00ff00"/><rect x="1168" y="465" width="3" height="50" fill="#00ff00"/>
<rect x="1173" y="458" width="1" height="61" fill="#ff0000"/><rect x="1172" y="506" width="3" height="10" fill="#ff0000"/>
<rect x="1177" y="498" width="1" height="41" fill="#00ff00"/><rect x="1176" y="506" width="3" height="32" fill="#00ff00"/>
<rect x="1181" y="517" width="1" height="24" fill="#ff0000"/><rect x="1180" y="537" width="3" height="2" fill="#ff0000"/>
<rect x="1185" y="535" width="1" height="5" fill="#00ff00"/><rect x="1184" y="536" width="3" height="3" fill="#00ff00"/>
<rect x="1189" y="533" width="1" height="36" fill="#00ff00"/><rect x="1188" y="534" width="3" height="23" fill="#00ff00"/>
<rect x="1193" y="531" width="1" height="28" fill="#ff0000"/><rect x="1192" y="542" width="3" height="15" fill="#ff0000"/>
<rect x="1197" y="524" width="1" height="27" fill="#ff0000"/><rect x="1196" y="526" width="3" height="14" fill="#ff0000"/>
<rect x="1201" y="502" width="1" height="30" fill="#ff0000"/><rect x="1200" y="511" width="3" height="16" fill="#ff0000"/>
<rect x="1205" y="496" width="1" height="22" fill="#ff0000"/><rect x="1204" y="498" width="3" height="14" fill="#ff0000"/>
<rect x="1209" y="495" width="1" height="11" fill="#00ff00"/><rect x="1208" y="498" width="3" height="7" fill="#00ff00"/>
<rect x="1213" y="506" width="1" height="21" fill="#00ff00"/><rect x="1212" y="506" width="3" height="20" fill="#00ff00"/>
<rect x="1217" y="512" width="1" height="16" fill="#ff0000"/><rect x="1216" y="518" width="3" height="8" fill="#ff0000"/>
<rect x="1221" y="512" width="1" height="18" fill="#00ff00"/><rect x="1220" y="518" width="3" height="8" fill="#00ff00"/>
<rect x="1225" y="510" width="1" height="27" fill="#ff0000"/><rect x="1224" y="520" width="3" height="7" fill="#ff0000"/>
<rect x="1229" y="518" width="1" height="17" fill="#00ff00"/><rect x="1228" y="521" width="3" height="6" fill="#00ff00"/>
<rect x="1233" y="517" width="1" height="13" fill="#ff0000"/><rect x="1232" y="518" width="3" height="8" fill="#ff0000"/>
<rect x="1237" y="514" width="1" height="19" fill="#ff0000"/><rect x="1236" y="518" width="3" height="2" fill="#ff0000"/>
<rect x="1241" y="513" width="1" height="31" fill="#00ff00"/><rect x="1240" y="518" width="3" height="19" fill="#00ff00"/>
<rect x="1245" y="536" width="1" height="14" fill="#00ff00"/><rect x="1244" y="536" width="3" height="8" fill="#00ff00"/>
<rect x="1249" y="539" width="1" height="12" fill="#ff0000"/><rect x="1248" y="542" width="3" height="2" fill="#ff0000"/>
<rect x="1253" y="539" width="1" height="16" fill="#00ff00"/><rect x="1252" y="539" width="3" height="14" fill="#00ff00"/>
<rect x="1257" y="548" width="1" height="6" fill="#ff0000"/><rect x="1256" y="550" width="3" height="4" fill="#ff0000"/>
<rect x="1261" y="547" width="1" height="22" fill="#00ff00"/><rect x="1260" y="551" width="3" height="8" fill="#00ff00"/>
<rect x="1265" y="543" width="1" height="16" fill="#ff0000"/><rect x="1264" y="551" width="3" height="8" fill="#ff0000"/>
<polyline points="1.5,486.3 5.5,484.0 9.5,481.9 13.5,479.7 17.5,477.7 21.5,476.6 25.5,476.1 29.5,474.8 33.5,473.8 37.5,473.1 41.5,472.4 45.5,472.0 49.5,472.0 53.5,472.0 57.5,472.3 61.5,473.1 65.5,473.9 69.5,475.2 73.5,476.3 77.5,477.0 81.5,477.5 85.5,478.0 89.5,478.8 93.5,479.7 97.5,481.2 101.5,483.3 105.5,485.6 109.5,488.0 113.5,491.2 117.5,494.2 121.5,497.2 125.5,500.1 129.5,503.0 133.5,506.3 137.5,509.1 141.5,511.0 145.5,511.8 149.5,514.0 153.5,515.9 157.5,517.6 161.5,519.3 165.5,520.9 169.5,522.4 173.5,523.8 177.5,525.0 181.5,525.9 185.5,526.8 189.5,526.8 193.5,526.6 197.5,527.0 201.5,527.2 205.5,527.2 209.5,526.9 213.5,526.5 217.5,525.4 221.5,524.1 225.5,522.5 229.5,520.4 233.5,517.3 237.5,514.3 241.5,511.1 245.5,508.0 249.5,504.9 253.5,501.5 257.5,498.8 261.5,496.6 265.5,495.1 269.5,493.0 273.5,491.1 277.5,489.3 281.5,487.5 285.5,485.6 289.5,483.7 293.5,482.0 297.5,480.6 301.5,478.5 305.5,476.3 309.5,474.6 313.5,472.5 317.5,469.7 321.5,467.2 325.5,465.1 329.5,463.6 333.5,461.7 337.5,460.0 341.5,458.1 345.5,456.2 349.5,453.7 353.5,448.8 357.5,444.4 361.5,438.7 365.5,431.9 369.5,425.6 373.5,419.2 377.5,410.3 381.5,397.9 385.5,386.0 389.5,375.1 393.5,363.4 397.5,350.6 401.5,338.6 405.5,327.8 409.5,319.8 413.5,311.4 417.5,304.2 421.5,295.3 425.5,287.0 429.5,277.9 433.5,270.4 437.5,263.4 441.5,256.0 445.5,248.6 449.5,242.4 453.5,236.3 457.5,230.6 461.5,225.2 465.5,220.0 469.5,215.7 473.5,214.5 477.5,211.0 481.5,208.3 485.5,208.0 489.5,207.0 493.5,206.1 497.5,205.9 501.5,209.7 505.5,213.9 509.5,216.6 513.5,219.8 517.5,224.6 521.5,229.4 525.5,233.3 529.5,234.6 533.5,234.4 537.5,233.1 541.5,233.9 545.5,234.9 549.5,235.6 553.5,237.0 557.5,239.3 561.5,241.5 565.5,242.5 569.5,242.1 573.5,241.4 577.5,240.3 581.5,239.1 585.5,237.7 589.5,237.5 593.5,237.7 597.5,239.7 601.5,241.6 605.5,241.7 609.5,242.0 613.5,242.9 617.5,246.6 621.5,250.2 625.5,252.8 629.5,255.7 633.5,258.9 637.5,263.3 641.5,268.0 645.5,272.3 649.5,276.3 653.5,282.9 657.5,289.2 661.5,296.2 665.5,302.0 669.5,309.3 673.5,313.3 677.5,316.5 681.5,319.6 685.5,323.7 689.5,328.0 693.5,333.1 697.5,338.0 701.5,342.7 705.5,347.6 709.5,351.8 713.5,355.4 717.5,358.4 721.5,361.3 725.5,364.5 729.5,367.8 733.5,370.6 737.5,372.7 741.5,374.7 745.5,376.4 749.5,378.8 753.5,380.9 757.5,381.5 761.5,380.8 765.5,380.3 769.5,379.6 773.5,378.0 777.5,376.5 781.5,374.7 785.5,373.0 789.5,371.8 793.5,372.0 797.5,372.2 801.5,372.6 805.5,373.4 809.5,374.6 813.5,376.2 817.5,378.4 821.5,380.2 825.5,382.0 829.5,383.6 833.5,385.0 837.5,387.3 841.5,389.5 845.5,392.5 849.5,395.3 853.5,398.0 857.5,400.5 861.5,403.7 865.5,406.7 869.5,408.5 873.5,410.2 877.5,412.2 881.5,415.0 885.5,417.9 889.5,421.5 893.5,424.8 897.5,428.1 901.5,431.7 905.5,435.9 909.5,439.3 913.5,442.9 917.5,446.5 921.5,450.4 925.5,453.4 929.5,455.9 933.5,458.5 937.5,461.0 941.5,464.1 945.5,467.4 949.5,470.8 953.5,474.0 957.5,477.1 961.5,480.0 965.5,482.9 969.5,486.2 973.5,489.3 977.5,490.9 981.5,491.8 985.5,493.1 989.5,495.1 993.5,496.9 997.5,498.7 1001.5,499.7 1005.5,500.5 1009.5,500.6 1013.5,501.3 1017.5,501.8 1021.5,500.9 1025.5,499.6 1029.5,497.6 1033.5,495.7 1037.5,493.7 1041.5,491.6 1045.5,490.1 1049.5,487.9 1053.5,486.2 1057.5,484.4 1061.5,482.3 1065.5,480.2 1069.5,477.9 1073.5,475.6 1077.5,473.3 1081.5,472.5 1085.5,472.2 1089.5,471.4 1093.5,471.2 1097.5,471.7 1101.5,471.9 1105.5,471.0 1109.5,470.9 1113.5,471.0 1117.5,471.2 1121.5,472.0 1125.5,472.4 1129.5,473.1 1133.5,473.4 1137.5,474.0 1141.5,474.8 1145.5,476.3 1149.5,476.8 1153.5,476.9 1157.5,477.7 1161.5,478.4 1165.5,479.4 1169.5,482.4 1173.5,484.3 1177.5,486.9 1181.5,489.7 1185.5,492.5 1189.5,495.5 1193.5,498.1 1197.5,500.3 1201.5,501.3 1205.5,500.9 1209.5,500.8 1213.5,501.2 1217.5,501.7 1221.5,502.5 1225.5,504.0 1229.5,505.3 1233.5,506.1 1237.5,506.7 1241.5,507.6 1245.5,508.7 1249.5,509.9 1253.5,511.6 1257.5,513.1 1261.5,515.6 1265.5,517.4" fill="none" stroke="#0000c8" stroke-width="1" stroke-linecap="square"/>
<polyline points="1.5,468.1 5.5,467.5 9.5,466.8 13.5,465.3 17.5,463.8 21.5,463.6 25.5,464.7 29.5,464.4 33.5,464.9 37.5,466.3 41.5,467.8 45.5,469.7 49.5,471.8 53.5,473.6 57.5,475.8 61.5,478.5 65.5,481.1 69.5,485.2 73.5,488.6 77.5,489.9 81.5,490.1 85.5,492.1 89.5,494.2 93.5,495.6 97.5,498.0 101.5,500.8 105.5,503.3 109.5,506.3 113.5,510.8 117.5,514.3 121.5,518.1 125.5,520.9 129.5,524.0 133.5,528.2 137.5,531.4 141.5,534.3 145.5,535.4 149.5,537.8 153.5,539.1 157.5,539.9 161.5,540.0 165.5,540.2 169.5,538.6 173.5,537.1 177.5,535.3 181.5,533.8 185.5,532.1 189.5,529.0 193.5,526.2 197.5,524.1 201.5,523.2 205.5,520.5 209.5,517.9 213.5,514.6 217.5,511.2 221.5,507.4 225.5,503.4 229.5,499.0 233.5,494.4 237.5,489.3 241.5,484.4 245.5,480.6 249.5,477.5 253.5,473.7 257.5,470.5 261.5,468.7 265.5,467.2 269.5,466.1 273.5,465.6 277.5,465.4 281.5,465.0 285.5,465.6 289.5,466.6 293.5,468.1 297.5,469.9 301.5,470.6 305.5,470.8 309.5,471.2 313.5,469.8 317.5,466.6 321.5,463.5 325.5,460.7 329.5,458.9 333.5,455.5 337.5,452.4 341.5,448.6 345.5,444.6 349.5,438.2 353.5,426.3 357.5,416.1 361.5,403.7 365.5,389.1 369.5,377.0 373.5,365.4 377.5,348.8 381.5,324.7 385.5,300.9 389.5,280.4 393.5,258.6 397.5,235.1 401.5,212.8 405.5,195.8 409.5,190.1 413.5,183.2 417.5,181.7 421.5,177.9 425.5,173.7 429.5,168.4 433.5,170.0 437.5,178.3 441.5,184.8 445.5,189.8 449.5,199.5 453.5,210.5 457.5,221.0 461.5,228.8 465.5,230.6 469.5,233.3 473.5,234.1 477.5,235.5 481.5,235.1 485.5,239.2 489.5,241.2 493.5,242.6 497.5,241.6 501.5,241.2 505.5,239.9 509.5,238.1 513.5,235.5 517.5,233.9 521.5,233.0 525.5,233.4 529.5,233.2 533.5,233.3 537.5,234.7 541.5,233.4 545.5,233.4 549.5,231.8 553.5,236.6 557.5,241.7 561.5,243.8 565.5,245.3 569.5,247.4 573.5,246.4 577.5,244.5 581.5,241.2 585.5,237.1 589.5,240.0 593.5,244.2 597.5,247.9 601.5,249.5 605.5,252.1 609.5,251.7 613.5,250.4 617.5,252.7 621.5,257.7 625.5,262.9 629.5,268.8 633.5,275.3 637.5,285.6 641.5,298.0 645.5,308.1 649.5,315.7 653.5,325.9 657.5,336.8 661.5,350.3 665.5,362.1 669.5,374.1 673.5,379.5 677.5,383.7 681.5,386.8 685.5,390.9 689.5,395.4 693.5,396.0 697.5,394.4 701.5,392.0 705.5,390.1 709.5,387.6 713.5,386.0 717.5,381.3 721.5,376.5 725.5,370.4 729.5,368.5 733.5,366.4 737.5,366.5 741.5,367.1 745.5,366.6 749.5,366.7 753.5,367.4 757.5,368.6 761.5,369.0 765.5,369.1 769.5,367.6 773.5,367.8 777.5,369.4 781.5,372.1 785.5,373.2 789.5,376.6 793.5,378.1 797.5,378.4 801.5,378.7 805.5,379.4 809.5,381.9 813.5,384.8 817.5,389.4 821.5,391.9 825.5,395.2 829.5,399.6 833.5,404.3 837.5,408.4 841.5,411.9 845.5,414.8 849.5,418.2 853.5,421.8 857.5,426.2 861.5,432.1 865.5,435.4 869.5,435.8 873.5,435.6 877.5,437.1 881.5,439.7 885.5,442.5 889.5,445.7 893.5,448.2 897.5,452.1 901.5,456.0 905.5,460.2 909.5,465.1 913.5,469.0 917.5,470.1 921.5,472.2 925.5,475.8 929.5,479.7 933.5,484.0 937.5,487.9 941.5,491.0 945.5,493.6 949.5,498.2 953.5,502.6 957.5,505.6 961.5,506.6 965.5,508.2 969.5,511.0 973.5,513.4 977.5,513.2 981.5,514.4 985.5,515.2 989.5,514.3 993.5,512.6 997.5,511.2 1001.5,508.9 1005.5,506.1 1009.5,502.6 1013.5,500.1 1017.5,498.9 1021.5,494.6 1025.5,488.9 1029.5,483.0 1033.5,479.3 1037.5,474.0 1041.5,469.0 1045.5,465.0 1049.5,460.4 1053.5,457.2 1057.5,455.3 1061.5,452.0 1065.5,449.9 1069.5,448.0 1073.5,446.3 1077.5,446.5 1081.5,448.5 1085.5,453.8 1089.5,458.8 1093.5,465.2 1097.5,470.5 1101.5,475.4 1105.5,478.9 1109.5,481.6 1113.5,483.9 1117.5,487.4 1121.5,491.4 1125.5,494.3 1129.5,497.4 1133.5,500.4 1137.5,502.1 1141.5,500.1 1145.5,499.5 1149.5,495.1 1153.5,490.4 1157.5,486.5 1161.5,484.9 1165.5,483.2 1169.5,484.8 1173.5,485.2 1177.5,487.1 1181.5,489.2 1185.5,491.4 1189.5,495.3 1193.5,497.9 1197.5,501.1 1201.5,502.0 1205.5,505.3 1209.5,510.1 1213.5,515.6 1217.5,520.4 1221.5,524.7 1225.5,525.2 1229.5,526.6 1233.5,525.2 1237.5,523.9 1241.5,523.7 1245.5,522.7 1249.5,522.7 1253.5,524.5 1257.5,527.3 1261.5,531.6 1265.5,535.0" fill="none" stroke="#ff0000" stroke-width="1" stroke-linecap="square"/>
<polyline points="1.5,459.2 5.5,460.8 9.5,462.3 13.5,461.7 17.5,460.9 21.5,464.1 25.5,469.9 29.5,470.6 33.5,473.8 37.5,477.9 41.5,477.7 45.5,475.6 49.5,480.0 53.5,483.2 57.5,485.7 61.5,490.7 65.5,494.4 69.5,499.0 73.5,503.0 77.5,503.7 81.5,502.5 85.5,501.5 89.5,499.1 93.5,497.4 97.5,500.4 101.5,505.3 105.5,511.3 109.5,517.0 113.5,528.4 117.5,536.4 121.5,543.0 125.5,548.2 129.5,552.5 133.5,552.2 137.5,550.3 141.5,546.7 145.5,539.9 149.5,536.2 153.5,531.0 157.5,529.0 161.5,527.2 165.5,530.4 169.5,530.7 173.5,530.9 177.5,530.2 181.5,530.9 185.5,529.7 189.5,525.2 193.5,519.8 197.5,515.5 201.5,510.4 205.5,503.6 209.5,499.9 213.5,496.3 217.5,491.1 221.5,486.1 225.5,482.9 229.5,478.0 233.5,473.7 237.5,469.5 241.5,465.3 245.5,461.5 249.5,459.7 253.5,457.4 257.5,457.8 261.5,459.6 265.5,462.3 269.5,464.5 273.5,468.6 277.5,471.7 281.5,472.4 285.5,473.4 289.5,474.9 293.5,476.4 297.5,478.0 301.5,477.1 305.5,474.4 309.5,470.5 313.5,462.7 317.5,450.3 321.5,442.4 325.5,436.3 329.5,434.0 333.5,431.7 337.5,432.9 341.5,431.8 345.5,429.7 349.5,418.6 353.5,396.0 357.5,375.5 361.5,348.7 365.5,315.1 369.5,291.3 373.5,279.9 377.5,253.7 381.5,215.0 385.5,187.0 389.5,161.1 393.5,133.9 397.5,113.4 401.5,116.5 405.5,124.3 409.5,143.3 413.5,164.2 417.5,199.2 421.5,217.4 425.5,229.7 429.5,219.2 433.5,216.8 437.5,205.5 441.5,206.4 445.5,206.0 449.5,221.0 453.5,227.0 457.5,236.1 461.5,247.2 465.5,257.6 469.5,258.6 473.5,265.3 477.5,257.8 481.5,247.5 485.5,243.2 489.5,239.0 493.5,229.1 497.5,223.6 501.5,223.0 505.5,222.9 509.5,218.4 513.5,216.1 517.5,225.6 521.5,234.7 525.5,240.5 529.5,251.5 533.5,251.8 537.5,249.8 541.5,244.4 545.5,239.0 549.5,225.2 553.5,232.8 557.5,242.7 561.5,251.9 565.5,251.7 569.5,259.8 573.5,253.0 577.5,242.5 581.5,233.2 585.5,228.6 589.5,231.1 593.5,243.5 597.5,254.0 601.5,262.3 605.5,267.3 609.5,265.7 613.5,260.2 617.5,265.2 621.5,274.7 625.5,289.9 629.5,300.8 633.5,312.2 637.5,325.4 641.5,341.4 645.5,357.5 649.5,375.0 653.5,395.7 657.5,405.6 661.5,413.6 665.5,417.0 669.5,423.5 673.5,415.3 677.5,406.2 681.5,392.3 685.5,381.6 689.5,371.9 693.5,371.6 697.5,371.3 701.5,372.0 705.5,372.5 709.5,373.9 713.5,377.5 717.5,377.0 721.5,373.8 725.5,368.4 729.5,361.8 733.5,351.5 737.5,350.8 741.5,355.2 745.5,361.4 749.5,366.6 753.5,374.0 757.5,378.0 761.5,377.8 765.5,380.7 769.5,380.1 773.5,378.3 777.5,375.8 781.5,377.0 785.5,373.3 789.5,376.5 793.5,379.5 797.5,380.4 801.5,379.9 805.5,384.2 809.5,389.0 813.5,396.7 817.5,408.7 821.5,417.6 825.5,424.1 829.5,427.6 833.5,430.3 837.5,430.2 841.5,429.4 845.5,431.5 849.5,431.7 853.5,429.3 857.5,429.8 861.5,440.8 865.5,446.6 869.5,446.0 873.5,447.3 877.5,448.1 881.5,445.5 885.5,447.6 889.5,457.9 893.5,465.7 897.5,471.4 901.5,477.1 905.5,481.1 909.5,483.6 913.5,487.9 917.5,491.0 921.5,491.9 925.5,489.6 929.5,488.3 933.5,490.1 937.5,495.5 941.5,500.2 945.5,507.8 949.5,517.4 953.5,523.6 957.5,526.5 961.5,524.8 965.5,524.7 969.5,523.9 973.5,521.1 977.5,513.1 981.5,511.5 985.5,507.7 989.5,499.5 993.5,493.3 997.5,494.6 1001.5,492.5 1005.5,492.0 1009.5,490.8 1013.5,491.6 1017.5,490.3 1021.5,484.5 1025.5,475.9 1029.5,466.0 1033.5,454.7 1037.5,442.0 1041.5,436.3 1045.5,432.3 1049.5,430.1 1053.5,432.8 1057.5,440.0 1061.5,444.3 1065.5,448.6 1069.5,457.0 1073.5,459.7 1077.5,460.0 1081.5,465.9 1085.5,476.9 1089.5,485.0 1093.5,494.9 1097.5,503.4 1101.5,507.7 1105.5,500.4 1109.5,496.6 1113.5,492.4 1117.5,491.8 1121.5,493.5 1125.5,500.2 1129.5,504.0 1133.5,506.0 1137.5,507.0 1141.5,501.2 1145.5,499.5 1149.5,488.3 1153.5,475.4 1157.5,463.9 1161.5,458.0 1165.5,451.0 1169.5,463.7 1173.5,477.2 1177.5,495.1 1181.5,512.1 1185.5,527.0 1189.5,535.4 1193.5,542.7 1197.5,540.5 1201.5,535.3 1205.5,527.2 1209.5,516.8 1213.5,513.5 1217.5,511.9 1221.5,514.7 1225.5,519.2 1229.5,523.5 1233.5,522.0 1237.5,522.0 1241.5,524.1 1245.5,528.6 1249.5,531.8 1253.5,538.6 1257.5,545.1 1261.5,549.5 1265.5,551.2" fill="none" stroke="#ffa500" stroke-width="1" stroke-linecap="square"/>
<rect x="1" y="379" width="1592" height="2" fill="#ff0000"/>
<rect x="1" y="420" width="1592" height="2" fill="#ff0000"/>
<rect x="1" y="456" width="1592" height="2" fill="#00ff00"/>
<rect x="1" y="503" width="1592" height="2" fill="#0000ff"/>
<rect x="1" y="540" width="1592" height="2" fill="#0000ff"/>
</g>
<rect x="1269" y="27" width="9" height="1" fill="#c0c0c0"/>
<rect x="1270" y="28" width="7" height="1" fill="#c0c0c0"/>
<rect x="1271" y="29" width="5" height="1" fill="#c0c0c0"/>
<rect x="1272" y="30" width="3" height="1" fill="#c0c0c0"/>
<rect x="1273" y="31" width="1" height="1" fill="#c0c0c0"/>
<rect x="1594" y="51" width="2" height="1" fill="#000"/>
<text x="1599" y="55" font-size="9.8" fill="#000" color="#000" textLength="32" lengthAdjust="spacingAndGlyphs">1.46750</text>
<rect x="1594" y="84" width="2" height="1" fill="#000"/>
<text x="1599" y="88" font-size="9.8" fill="#000" color="#000" textLength="32" lengthAdjust="spacingAndGlyphs">1.45640</text>
<rect x="1594" y="117" width="2" height="1" fill="#000"/>
<text x="1599" y="121" font-size="9.8" fill="#000" color="#000" textLength="32" lengthAdjust="spacingAndGlyphs">1.44530</text>
<rect x="1594" y="150" width="2" height="1" fill="#000"/>
<text x="1599" y="154" font-size="9.8" fill="#000" color="#000" textLength="32" lengthAdjust="spacingAndGlyphs">1.43390</text>
<rect x="1594" y="183" width="2" height="1" fill="#000"/>
<text x="1599" y="187" font-size="9.8" fill="#000" color="#000" textLength="32" lengthAdjust="spacingAndGlyphs">1.42280</text>
<rect x="1594" y="216" width="2" height="1" fill="#000"/>
<text x="1599" y="220" font-size="9.8" fill="#000" color="#000" textLength="32" lengthAdjust="spacingAndGlyphs">1.41170</text>
<rect x="1594" y="249" width="2" height="1" fill="#000"/>
<text x="1599" y="253" font-size="9.8" fill="#000" color="#000" textLength="32" lengthAdjust="spacingAndGlyphs">1.40030</text>
<rect x="1594" y="282" width="2" height="1" fill="#000"/>
<text x="1599" y="286" font-size="9.8" fill="#000" color="#000" textLength="32" lengthAdjust="spacingAndGlyphs">1.38920</text>
<rect x="1594" y="315" width="2" height="1" fill="#000"/>
<text x="1599" y="319" font-size="9.8" fill="#000" color="#000" textLength="32" lengthAdjust="spacingAndGlyphs">1.37810</text>
<rect x="1594" y="348" width="2" height="1" fill="#000"/>
<text x="1599" y="352" font-size="9.8" fill="#000" color="#000" textLength="32" lengthAdjust="spacingAndGlyphs">1.36700</text>
<rect x="1594" y="381" width="2" height="1" fill="#000"/>
<rect x="1594" y="414" width="2" height="1" fill="#000"/>
<text x="1599" y="418" font-size="9.8" fill="#000" color="#000" textLength="32" lengthAdjust="spacingAndGlyphs">1.34450</text>
<rect x="1594" y="447" width="2" height="1" fill="#000"/>
<text x="1599" y="451" font-size="9.8" fill="#000" color="#000" textLength="32" lengthAdjust="spacingAndGlyphs">1.33340</text>
<rect x="1594" y="480" width="2" height="1" fill="#000"/>
<text x="1599" y="484" font-size="9.8" fill="#000" color="#000" textLength="32" lengthAdjust="spacingAndGlyphs">1.32230</text>
<rect x="1594" y="513" width="2" height="1" fill="#000"/>
<text x="1599" y="517" font-size="9.8" fill="#000" color="#000" textLength="32" lengthAdjust="spacingAndGlyphs">1.31090</text>
<rect x="1594" y="546" width="2" height="1" fill="#000"/>
<rect x="1594" y="579" width="2" height="1" fill="#000"/>
<text x="1599" y="583" font-size="9.8" fill="#000" color="#000" textLength="32" lengthAdjust="spacingAndGlyphs">1.28870</text>
<rect x="1595" y="374" width="41" height="11" fill="#ff0000"/>
<text x="1599" y="383" font-size="9.8" fill="#fff" color="#fff" textLength="32" lengthAdjust="spacingAndGlyphs">1.35606</text>
<rect x="1595" y="415" width="41" height="11" fill="#ff0000"/>
<text x="1599" y="424" font-size="9.8" fill="#fff" color="#fff" textLength="32" lengthAdjust="spacingAndGlyphs">1.34206</text>
<rect x="1595" y="451" width="41" height="11" fill="#00ff00"/>
<text x="1599" y="460" font-size="9.8" fill="#fff" color="#fff" textLength="32" lengthAdjust="spacingAndGlyphs">1.33011</text>
<rect x="1595" y="498" width="41" height="11" fill="#0000ff"/>
<text x="1599" y="507" font-size="9.8" fill="#fff" color="#fff" textLength="32" lengthAdjust="spacingAndGlyphs">1.31405</text>
<rect x="1595" y="535" width="41" height="11" fill="#0000ff"/>
<text x="1599" y="544" font-size="9.8" fill="#fff" color="#fff" textLength="32" lengthAdjust="spacingAndGlyphs">1.30152</text>
<rect x="1595" y="546" width="41" height="11" fill="#000000"/>
<text x="1599" y="555" font-size="9.8" fill="#fff" color="#fff" textLength="32" lengthAdjust="spacingAndGlyphs">1.29802</text>
<g clip-path="url(#cr)">
<line x1="2" y1="615.5" x2="1591" y2="615.5" stroke="#c0c0c0" stroke-width="1" stroke-dasharray="3,3"/>
<line x1="2" y1="655.5" x2="1591" y2="655.5" stroke="#c0c0c0" stroke-width="1" stroke-dasharray="3,3"/>
<polyline points="1.5,625.3 5.5,628.2 9.5,627.7 13.5,621.9 17.5,626.1 21.5,641.1 25.5,649.4 29.5,633.4 33.5,635.5 37.5,639.8 41.5,637.8 45.5,640.8 49.5,644.1 53.5,642.8 57.5,645.1 61.5,649.3 65.5,648.3 69.5,653.2 73.5,649.0 77.5,641.6 81.5,641.7 85.5,641.3 89.5,644.2 93.5,642.4 97.5,648.6 101.5,652.5 105.5,654.3 109.5,655.8 113.5,663.1 117.5,659.5 121.5,660.1 125.5,658.7 129.5,658.2 133.5,659.3 137.5,648.7 141.5,644.7 145.5,634.3 149.5,641.1 153.5,639.4 157.5,640.5 161.5,638.0 165.5,641.2 169.5,641.5 173.5,638.7 177.5,637.7 181.5,639.0 185.5,637.1 189.5,627.6 193.5,623.6 197.5,626.2 201.5,625.2 205.5,620.3 209.5,619.9 213.5,616.8 217.5,615.0 221.5,614.8 225.5,614.0 229.5,610.4 233.5,609.1 237.5,607.6 241.5,607.6 245.5,607.4 249.5,608.4 253.5,606.1 257.5,615.5 261.5,622.9 265.5,625.9 269.5,625.2 273.5,627.8 277.5,630.7 281.5,627.6 285.5,631.6 289.5,633.1 293.5,635.6 297.5,638.9 301.5,626.1 305.5,623.0 309.5,620.7 313.5,613.4 317.5,607.7 321.5,612.6 325.5,615.7 329.5,626.3 333.5,619.8 337.5,619.5 341.5,617.3 345.5,617.1 349.5,609.1 353.5,599.5 357.5,603.8 361.5,600.5 365.5,598.2 369.5,605.3 373.5,604.2 377.5,599.7 381.5,595.7 385.5,600.6 389.5,607.7 393.5,606.5 397.5,604.6 401.5,608.7 405.5,617.8 409.5,631.5 413.5,630.3 417.5,635.6 421.5,628.1 425.5,630.0 429.5,627.0 433.5,631.2 437.5,630.6 441.5,629.9 445.5,631.0 449.5,637.8 453.5,635.8 457.5,637.3 461.5,637.9 465.5,638.4 469.5,638.5 473.5,641.0 477.5,630.6 481.5,629.3 485.5,635.0 489.5,635.3 493.5,633.0 497.5,627.0 501.5,629.9 505.5,636.1 509.5,632.9 513.5,632.4 517.5,636.0 521.5,638.3 525.5,641.4 529.5,642.4 533.5,632.0 537.5,633.4 541.5,632.8 545.5,636.4 549.5,630.2 553.5,638.9 557.5,641.7 561.5,640.5 565.5,635.4 569.5,636.4 573.5,632.3 577.5,632.4 581.5,632.3 585.5,631.3 589.5,639.7 593.5,644.1 597.5,642.0 601.5,639.5 605.5,635.0 609.5,636.6 613.5,638.0 617.5,645.8 621.5,647.5 625.5,648.6 629.5,645.2 633.5,646.7 637.5,654.3 641.5,657.1 645.5,658.0 649.5,656.1 653.5,658.9 657.5,658.5 661.5,660.2 665.5,655.4 669.5,656.5 673.5,643.4 677.5,641.9 681.5,639.9 685.5,640.1 689.5,642.9 693.5,642.6 697.5,640.7 701.5,639.6 705.5,639.6 709.5,644.3 713.5,646.6 717.5,638.0 721.5,633.3 725.5,630.6 729.5,634.1 733.5,631.7 737.5,637.7 741.5,639.9 745.5,639.3 749.5,641.2 753.5,641.7 757.5,643.0 761.5,638.3 765.5,642.5 769.5,638.6 773.5,637.1 777.5,637.5 781.5,639.6 785.5,635.4 789.5,643.3 793.5,641.1 797.5,637.7 801.5,637.2 805.5,641.8 809.5,649.2 813.5,651.4 817.5,654.0 821.5,647.1 825.5,647.4 829.5,650.2 833.5,651.6 837.5,650.4 841.5,641.8 845.5,646.4 849.5,646.7 853.5,643.5 857.5,647.1 861.5,654.7 865.5,650.6 869.5,639.6 873.5,640.2 877.5,642.7 881.5,646.6 885.5,649.8 889.5,651.9 893.5,647.9 897.5,647.4 901.5,651.1 905.5,652.4 909.5,652.9 913.5,652.3 917.5,648.8 921.5,650.0 925.5,645.2 929.5,647.5 933.5,651.5 937.5,654.2 941.5,654.5 945.5,655.6 949.5,659.7 953.5,657.8 957.5,654.7 961.5,643.3 965.5,647.0 969.5,650.9 973.5,645.2 977.5,633.8 981.5,636.8 985.5,637.2 989.5,634.5 993.5,633.7 997.5,635.9 1001.5,633.0 1005.5,636.8 1009.5,632.5 1013.5,635.6 1017.5,633.7 1021.5,624.0 1025.5,622.9 1029.5,618.5 1033.5,618.8 1037.5,616.1 1041.5,618.5 1045.5,620.9 1049.5,618.3 1053.5,629.9 1057.5,633.6 1061.5,630.7 1065.5,632.3 1069.5,636.5 1073.5,635.4 1077.5,634.5 1081.5,641.7 1085.5,649.9 1089.5,648.5 1093.5,650.1 1097.5,646.0 1101.5,645.2 1105.5,634.1 1109.5,638.8 1113.5,640.1 1117.5,642.7 1121.5,645.6 1125.5,644.3 1129.5,644.0 1133.5,641.8 1137.5,642.9 1141.5,633.0 1145.5,639.2 1149.5,624.9 1153.5,622.1 1157.5,625.5 1161.5,627.2 1165.5,631.3 1169.5,644.4 1173.5,641.9 1177.5,648.3 1181.5,648.2 1185.5,648.5 1189.5,651.9 1193.5,647.0 1197.5,642.1 1201.5,637.7 1205.5,634.2 1209.5,636.0 1213.5,641.2 1217.5,639.1 1221.5,640.9 1225.5,639.4 1229.5,640.9 1233.5,638.1 1237.5,638.3 1241.5,643.5 1245.5,645.4 1249.5,645.0 1253.5,647.8 1257.5,647.0 1261.5,649.2 1265.5,646.1" fill="none" stroke="#1e90ff" stroke-width="1" stroke-linecap="square"/>
</g>
<rect x="1594" y="586" width="1" height="1" fill="#000"/>
<rect x="1594" y="685" width="1" height="1" fill="#000"/>
<text x="1597" y="595" font-size="9.8" fill="#000" color="#000" textLength="15" lengthAdjust="spacingAndGlyphs">100</text>
<text x="1596" y="619" font-size="9.8" fill="#000" color="#000" textLength="10" lengthAdjust="spacingAndGlyphs">70</text>
<text x="1596" y="659" font-size="9.8" fill="#000" color="#000" textLength="10" lengthAdjust="spacingAndGlyphs">30</text>
<text x="1597" y="683" font-size="9.8" fill="#000" color="#000" textLength="5" lengthAdjust="spacingAndGlyphs">0</text>
<text x="5" y="597" font-size="9.8" fill="#000" color="#000" textLength="68" lengthAdjust="spacingAndGlyphs">RSI(14) 39.6670</text>
<g clip-path="url(#cc)">
<rect x="1" y="748" width="1" height="6" fill="#c0c0c0"/>
<rect x="5" y="749" width="1" height="5" fill="#c0c0c0"/>
<rect x="9" y="749" width="1" height="5" fill="#c0c0c0"/>
<rect x="13" y="749" width="1" height="5" fill="#c0c0c0"/>
<rect x="17" y="749" width="1" height="5" fill="#c0c0c0"/>
<rect x="21" y="750" width="1" height="4" fill="#c0c0c0"/>
<rect x="25" y="751" width="1" height="3" fill="#c0c0c0"/>
<rect x="29" y="751" width="1" height="3" fill="#c0c0c0"/>
<rect x="33" y="752" width="1" height="2" fill="#c0c0c0"/>
<rect x="37" y="752" width="1" height="2" fill="#c0c0c0"/>
<rect x="41" y="753" width="1" height="1" fill="#c0c0c0"/>
<rect x="45" y="753" width="1" height="1" fill="#c0c0c0"/>
<rect x="49" y="753" width="1" height="2" fill="#c0c0c0"/>
<rect x="53" y="753" width="1" height="2" fill="#c0c0c0"/>
<rect x="57" y="753" width="1" height="3" fill="#c0c0c0"/>
<rect x="61" y="753" width="1" height="4" fill="#c0c0c0"/>
<rect x="65" y="753" width="1" height="5" fill="#c0c0c0"/>
<rect x="69" y="753" width="1" height="6" fill="#c0c0c0"/>
<rect x="73" y="753" width="1" height="6" fill="#c0c0c0"/>
<rect x="77" y="753" width="1" height="6" fill="#c0c0c0"/>
<rect x="81" y="753" width="1" height="6" fill="#c0c0c0"/>
<rect x="85" y="753" width="1" height="6" fill="#c0c0c0"/>
<rect x="89" y="753" width="1" height="6" fill="#c0c0c0"/>
<rect x="93" y="753" width="1" height="6" fill="#c0c0c0"/>
<rect x="97" y="753" width="1" height="6" fill="#c0c0c0"/>
<rect x="101" y="753" width="1" height="7" fill="#c0c0c0"/>
<rect x="105" y="753" width="1" height="8" fill="#c0c0c0"/>
<rect x="109" y="753" width="1" height="8" fill="#c0c0c0"/>
<rect x="113" y="753" width="1" height="10" fill="#c0c0c0"/>
<rect x="117" y="753" width="1" height="11" fill="#c0c0c0"/>
<rect x="121" y="753" width="1" height="12" fill="#c0c0c0"/>
<rect x="125" y="753" width="1" height="13" fill="#c0c0c0"/>
<rect x="129" y="753" width="1" height="13" fill="#c0c0c0"/>
<rect x="133" y="753" width="1" height="13" fill="#c0c0c0"/>
<rect x="137" y="753" width="1" height="13" fill="#c0c0c0"/>
<rect x="141" y="753" width="1" height="12" fill="#c0c0c0"/>
<rect x="145" y="753" width="1" height="10" fill="#c0c0c0"/>
<rect x="149" y="753" width="1" height="9" fill="#c0c0c0"/>
<rect x="153" y="753" width="1" height="8" fill="#c0c0c0"/>
<rect x="157" y="753" width="1" height="8" fill="#c0c0c0"/>
<rect x="161" y="753" width="1" height="7" fill="#c0c0c0"/>
<rect x="165" y="753" width="1" height="6" fill="#c0c0c0"/>
<rect x="169" y="753" width="1" height="6" fill="#c0c0c0"/>
<rect x="173" y="753" width="1" height="6" fill="#c0c0c0"/>
<rect x="177" y="753" width="1" height="5" fill="#c0c0c0"/>
<rect x="181" y="753" width="1" height="5" fill="#c0c0c0"/>
<rect x="185" y="753" width="1" height="4" fill="#c0c0c0"/>
<rect x="189" y="753" width="1" height="3" fill="#c0c0c0"/>
<rect x="193" y="753" width="1" height="2" fill="#c0c0c0"/>
<rect x="197" y="753" width="1" height="1" fill="#c0c0c0"/>
<rect x="201" y="752" width="1" height="2" fill="#c0c0c0"/>
<rect x="205" y="751" width="1" height="3" fill="#c0c0c0"/>
<rect x="209" y="750" width="1" height="4" fill="#c0c0c0"/>
<rect x="213" y="748" width="1" height="6" fill="#c0c0c0"/>
<rect x="217" y="747" width="1" height="7" fill="#c0c0c0"/>
<rect x="221" y="747" width="1" height="7" fill="#c0c0c0"/>
<rect x="225" y="746" width="1" height="8" fill="#c0c0c0"/>
<rect x="229" y="745" width="1" height="9" fill="#c0c0c0"/>
<rect x="233" y="744" width="1" height="10" fill="#c0c0c0"/>
<rect x="237" y="743" width="1" height="11" fill="#c0c0c0"/>
<rect x="241" y="743" width="1" height="11" fill="#c0c0c0"/>
<rect x="245" y="742" width="1" height="12" fill="#c0c0c0"/>
<rect x="249" y="742" width="1" height="12" fill="#c0c0c0"/>
<rect x="253" y="742" width="1" height="12" fill="#c0c0c0"/>
<rect x="257" y="742" width="1" height="12" fill="#c0c0c0"/>
<rect x="261" y="743" width="1" height="11" fill="#c0c0c0"/>
<rect x="265" y="744" width="1" height="10" fill="#c0c0c0"/>
<rect x="269" y="745" width="1" height="9" fill="#c0c0c0"/>
<rect x="273" y="745" width="1" height="9" fill="#c0c0c0"/>
<rect x="277" y="746" width="1" height="8" fill="#c0c0c0"/>
<rect x="281" y="747" width="1" height="7" fill="#c0c0c0"/>
<rect x="285" y="748" width="1" height="6" fill="#c0c0c0"/>
<rect x="289" y="748" width="1" height="6" fill="#c0c0c0"/>
<rect x="293" y="749" width="1" height="5" fill="#c0c0c0"/>
<rect x="297" y="750" width="1" height="4" fill="#c0c0c0"/>
<rect x="301" y="750" width="1" height="4" fill="#c0c0c0"/>
<rect x="305" y="749" width="1" height="5" fill="#c0c0c0"/>
<rect x="309" y="749" width="1" height="5" fill="#c0c0c0"/>
<rect x="313" y="748" width="1" height="6" fill="#c0c0c0"/>
<rect x="317" y="746" width="1" height="8" fill="#c0c0c0"/>
<rect x="321" y="745" width="1" height="9" fill="#c0c0c0"/>
<rect x="325" y="744" width="1" height="10" fill="#c0c0c0"/>
<rect x="329" y="745" width="1" height="9" fill="#c0c0c0"/>
<rect x="333" y="744" width="1" height="10" fill="#c0c0c0"/>
<rect x="337" y="744" width="1" height="10" fill="#c0c0c0"/>
<rect x="341" y="743" width="1" height="11" fill="#c0c0c0"/>
<rect x="345" y="743" width="1" height="11" fill="#c0c0c0"/>
<rect x="349" y="741" width="1" height="13" fill="#c0c0c0"/>
<rect x="353" y="736" width="1" height="18" fill="#c0c0c0"/>
<rect x="357" y="733" width="1" height="21" fill="#c0c0c0"/>
<rect x="361" y="729" width="1" height="25" fill="#c0c0c0"/>
<rect x="365" y="724" width="1" height="30" fill="#c0c0c0"/>
<rect x="369" y="721" width="1" height="33" fill="#c0c0c0"/>
<rect x="373" y="719" width="1" height="35" fill="#c0c0c0"/>
<rect x="377" y="714" width="1" height="40" fill="#c0c0c0"/>
<rect x="381" y="705" width="1" height="49" fill="#c0c0c0"/>
<rect x="385" y="700" width="1" height="54" fill="#c0c0c0"/>
<rect x="389" y="698" width="1" height="56" fill="#c0c0c0"/>
<rect x="393" y="696" width="1" height="58" fill="#c0c0c0"/>
<rect x="397" y="694" width="1" height="60" fill="#c0c0c0"/>
<rect x="401" y="693" width="1" height="61" fill="#c0c0c0"/>
<rect x="405" y="696" width="1" height="58" fill="#c0c0c0"/>
<rect x="409" y="703" width="1" height="51" fill="#c0c0c0"/>
<rect x="413" y="709" width="1" height="45" fill="#c0c0c0"/>
<rect x="417" y="716" width="1" height="38" fill="#c0c0c0"/>
<rect x="421" y="718" width="1" height="36" fill="#c0c0c0"/>
<rect x="425" y="721" width="1" height="33" fill="#c0c0c0"/>
<rect x="429" y="723" width="1" height="31" fill="#c0c0c0"/>
<rect x="433" y="726" width="1" height="28" fill="#c0c0c0"/>
<rect x="437" y="728" width="1" height="26" fill="#c0c0c0"/>
<rect x="441" y="730" width="1" height="24" fill="#c0c0c0"/>
<rect x="445" y="732" width="1" height="22" fill="#c0c0c0"/>
<rect x="449" y="736" width="1" height="18" fill="#c0c0c0"/>
<rect x="453" y="739" width="1" height="15" fill="#c0c0c0"/>
<rect x="457" y="742" width="1" height="12" fill="#c0c0c0"/>
<rect x="461" y="745" width="1" height="9" fill="#c0c0c0"/>
<rect x="465" y="747" width="1" height="7" fill="#c0c0c0"/>
<rect x="469" y="749" width="1" height="5" fill="#c0c0c0"/>
<rect x="473" y="751" width="1" height="3" fill="#c0c0c0"/>
<rect x="477" y="750" width="1" height="4" fill="#c0c0c0"/>
<rect x="481" y="748" width="1" height="6" fill="#c0c0c0"/>
<rect x="485" y="749" width="1" height="5" fill="#c0c0c0"/>
<rect x="489" y="750" width="1" height="4" fill="#c0c0c0"/>
<rect x="493" y="749" width="1" height="5" fill="#c0c0c0"/>
<rect x="497" y="747" width="1" height="7" fill="#c0c0c0"/>
<rect x="501" y="746" width="1" height="8" fill="#c0c0c0"/>
<rect x="505" y="748" width="1" height="6" fill="#c0c0c0"/>
<rect x="509" y="748" width="1" height="6" fill="#c0c0c0"/>
<rect x="513" y="748" width="1" height="6" fill="#c0c0c0"/>
<rect x="517" y="749" width="1" height="5" fill="#c0c0c0"/>
<rect x="521" y="750" width="1" height="4" fill="#c0c0c0"/>
<rect x="525" y="752" width="1" height="2" fill="#c0c0c0"/>
<rect x="529" y="753" width="1" height="3" fill="#c0c0c0"/>
<rect x="533" y="753" width="1" height="1" fill="#c0c0c0"/>
<rect x="537" y="753" width="1" height="1" fill="#c0c0c0"/>
<rect x="541" y="752" width="1" height="2" fill="#c0c0c0"/>
<rect x="545" y="752" width="1" height="2" fill="#c0c0c0"/>
<rect x="549" y="751" width="1" height="3" fill="#c0c0c0"/>
<rect x="553" y="752" width="1" height="2" fill="#c0c0c0"/>
<rect x="557" y="753" width="1" height="3" fill="#c0c0c0"/>
<rect x="561" y="753" width="1" height="4" fill="#c0c0c0"/>
<rect x="565" y="753" width="1" height="3" fill="#c0c0c0"/>
<rect x="569" y="753" width="1" height="3" fill="#c0c0c0"/>
<rect x="573" y="753" width="1" height="2" fill="#c0c0c0"/>
<rect x="577" y="753" width="1" height="1" fill="#c0c0c0"/>
<rect x="581" y="752" width="1" height="2" fill="#c0c0c0"/>
<rect x="585" y="751" width="1" height="3" fill="#c0c0c0"/>
<rect x="589" y="753" width="1" height="1" fill="#c0c0c0"/>
<rect x="593" y="753" width="1" height="3" fill="#c0c0c0"/>
<rect x="597" y="753" width="1" height="5" fill="#c0c0c0"/>
<rect x="601" y="753" width="1" height="5" fill="#c0c0c0"/>
<rect x="605" y="753" width="1" height="4" fill="#c0c0c0"/>
<rect x="609" y="753" width="1" height="4" fill="#c0c0c0"/>
<rect x="613" y="753" width="1" height="4" fill="#c0c0c0"/>
<rect x="617" y="753" width="1" height="7" fill="#c0c0c0"/>
<rect x="621" y="753" width="1" height="9" fill="#c0c0c0"/>
<rect x="625" y="753" width="1" height="11" fill="#c0c0c0"/>
<rect x="629" y="753" width="1" height="12" fill="#c0c0c0"/>
<rect x="633" y="753" width="1" height="13" fill="#c0c0c0"/>
<rect x="637" y="753" width="1" height="16" fill="#c0c0c0"/>
<rect x="641" y="753" width="1" height="20" fill="#c0c0c0"/>
<rect x="645" y="753" width="1" height="23" fill="#c0c0c0"/>
<rect x="649" y="753" width="1" height="25" fill="#c0c0c0"/>
<rect x="653" y="753" width="1" height="28" fill="#c0c0c0"/>
<rect x="657" y="753" width="1" height="29" fill="#c0c0c0"/>
<rect x="661" y="753" width="1" height="31" fill="#c0c0c0"/>
<rect x="665" y="753" width="1" height="31" fill="#c0c0c0"/>
<rect x="669" y="753" width="1" height="31" fill="#c0c0c0"/>
<rect x="673" y="753" width="1" height="29" fill="#c0c0c0"/>
<rect x="677" y="753" width="1" height="26" fill="#c0c0c0"/>
<rect x="681" y="753" width="1" height="23" fill="#c0c0c0"/>
<rect x="685" y="753" width="1" height="21" fill="#c0c0c0"/>
<rect x="689" y="753" width="1" height="19" fill="#c0c0c0"/>
<rect x="693" y="753" width="1" height="18" fill="#c0c0c0"/>
<rect x="697" y="753" width="1" height="16" fill="#c0c0c0"/>
<rect x="701" y="753" width="1" height="15" fill="#c0c0c0"/>
<rect x="705" y="753" width="1" height="13" fill="#c0c0c0"/>
<rect x="709" y="753" width="1" height="13" fill="#c0c0c0"/>
<rect x="713" y="753" width="1" height="13" fill="#c0c0c0"/>
<rect x="717" y="753" width="1" height="12" fill="#c0c0c0"/>
<rect x="721" y="753" width="1" height="9" fill="#c0c0c0"/>
<rect x="725" y="753" width="1" height="7" fill="#c0c0c0"/>
<rect x="729" y="753" width="1" height="6" fill="#c0c0c0"/>
<rect x="733" y="753" width="1" height="4" fill="#c0c0c0"/>
<rect x="737" y="753" width="1" height="4" fill="#c0c0c0"/>
<rect x="741" y="753" width="1" height="5" fill="#c0c0c0"/>
<rect x="745" y="753" width="1" height="5" fill="#c0c0c0"/>
<rect x="749" y="753" width="1" height="5" fill="#c0c0c0"/>
<rect x="753" y="753" width="1" height="5" fill="#c0c0c0"/>
<rect x="757" y="753" width="1" height="6" fill="#c0c0c0"/>
<rect x="761" y="753" width="1" height="6" fill="#c0c0c0"/>
<rect x="765" y="753" width="1" height="6" fill="#c0c0c0"/>
<rect x="769" y="753" width="1" height="6" fill="#c0c0c0"/>
<rect x="773" y="753" width="1" height="5" fill="#c0c0c0"/>
<rect x="777" y="753" width="1" height="5" fill="#c0c0c0"/>
<rect x="781" y="753" width="1" height="5" fill="#c0c0c0"/>
<rect x="785" y="753" width="1" height="4" fill="#c0c0c0"/>
<rect x="789" y="753" width="1" height="5" fill="#c0c0c0"/>
<rect x="793" y="753" width="1" height="5" fill="#c0c0c0"/>
<rect x="797" y="753" width="1" height="5" fill="#c0c0c0"/>
<rect x="801" y="753" width="1" height="4" fill="#c0c0c0"/>
<rect x="805" y="753" width="1" height="5" fill="#c0c0c0"/>
<rect x="809" y="753" width="1" height="6" fill="#c0c0c0"/>
<rect x="813" y="753" width="1" height="8" fill="#c0c0c0"/>
<rect x="817" y="753" width="1" height="10" fill="#c0c0c0"/>
<rect x="821" y="753" width="1" height="10" fill="#c0c0c0"/>
<rect x="825" y="753" width="1" height="11" fill="#c0c0c0"/>
<rect x="829" y="753" width="1" height="12" fill="#c0c0c0"/>
<rect x="833" y="753" width="1" height="12" fill="#c0c0c0"/>
<rect x="837" y="753" width="1" height="13" fill="#c0c0c0"/>
<rect x="841" y="753" width="1" height="12" fill="#c0c0c0"/>
<rect x="845" y="753" width="1" height="12" fill="#c0c0c0"/>
<rect x="849" y="753" width="1" height="12" fill="#c0c0c0"/>
<rect x="853" y="753" width="1" height="11" fill="#c0c0c0"/>
<rect x="857" y="753" width="1" height="11" fill="#c0c0c0"/>
<rect x="861" y="753" width="1" height="13" fill="#c0c0c0"/>
<rect x="865" y="753" width="1" height="14" fill="#c0c0c0"/>
<rect x="869" y="753" width="1" height="12" fill="#c0c0c0"/>
<rect x="873" y="753" width="1" height="11" fill="#c0c0c0"/>
<rect x="877" y="753" width="1" height="11" fill="#c0c0c0"/>
<rect x="881" y="753" width="1" height="11" fill="#c0c0c0"/>
<rect x="885" y="753" width="1" height="12" fill="#c0c0c0"/>
<rect x="889" y="753" width="1" height="14" fill="#c0c0c0"/>
<rect x="893" y="753" width="1" height="14" fill="#c0c0c0"/>
<rect x="897" y="753" width="1" height="14" fill="#c0c0c0"/>
<rect x="901" y="753" width="1" height="14" fill="#c0c0c0"/>
<rect x="905" y="753" width="1" height="15" fill="#c0c0c0"/>
<rect x="909" y="753" width="1" height="15" fill="#c0c0c0"/>
<rect x="913" y="753" width="1" height="16" fill="#c0c0c0"/>
<rect x="917" y="753" width="1" height="15" fill="#c0c0c0"/>
<rect x="921" y="753" width="1" height="15" fill="#c0c0c0"/>
<rect x="925" y="753" width="1" height="14" fill="#c0c0c0"/>
<rect x="929" y="753" width="1" height="14" fill="#c0c0c0"/>
<rect x="933" y="753" width="1" height="14" fill="#c0c0c0"/>
<rect x="937" y="753" width="1" height="14" fill="#c0c0c0"/>
<rect x="941" y="753" width="1" height="15" fill="#c0c0c0"/>
<rect x="945" y="753" width="1" height="15" fill="#c0c0c0"/>
<rect x="949" y="753" width="1" height="16" fill="#c0c0c0"/>
<rect x="953" y="753" width="1" height="17" fill="#c0c0c0"/>
<rect x="957" y="753" width="1" height="17" fill="#c0c0c0"/>
<rect x="961" y="753" width="1" height="15" fill="#c0c0c0"/>
<rect x="965" y="753" width="1" height="15" fill="#c0c0c0"/>
<rect x="969" y="753" width="1" height="15" fill="#c0c0c0"/>
<rect x="973" y="753" width="1" height="14" fill="#c0c0c0"/>
<rect x="977" y="753" width="1" height="12" fill="#c0c0c0"/>
<rect x="981" y="753" width="1" height="10" fill="#c0c0c0"/>
<rect x="985" y="753" width="1" height="9" fill="#c0c0c0"/>
<rect x="989" y="753" width="1" height="8" fill="#c0c0c0"/>
<rect x="993" y="753" width="1" height="6" fill="#c0c0c0"/>
<rect x="997" y="753" width="1" height="5" fill="#c0c0c0"/>
<rect x="1001" y="753" width="1" height="4" fill="#c0c0c0"/>
<rect x="1005" y="753" width="1" height="4" fill="#c0c0c0"/>
<rect x="1009" y="753" width="1" height="3" fill="#c0c0c0"/>
<rect x="1013" y="753" width="1" height="3" fill="#c0c0c0"/>
<rect x="1017" y="753" width="1" height="2" fill="#c0c0c0"/>
<rect x="1021" y="752" width="1" height="2" fill="#c0c0c0"/>
<rect x="1025" y="750" width="1" height="4" fill="#c0c0c0"/>
<rect x="1029" y="748" width="1" height="6" fill="#c0c0c0"/>
<rect x="1033" y="746" width="1" height="8" fill="#c0c0c0"/>
<rect x="1037" y="744" width="1" height="10" fill="#c0c0c0"/>
<rect x="1041" y="743" width="1" height="11" fill="#c0c0c0"/>
<rect x="1045" y="743" width="1" height="11" fill="#c0c0c0"/>
<rect x="1049" y="742" width="1" height="12" fill="#c0c0c0"/>
<rect x="1053" y="743" width="1" height="11" fill="#c0c0c0"/>
<rect x="1057" y="744" width="1" height="10" fill="#c0c0c0"/>
<rect x="1061" y="745" width="1" height="9" fill="#c0c0c0"/>
<rect x="1065" y="746" width="1" height="8" fill="#c0c0c0"/>
<rect x="1069" y="747" width="1" height="7" fill="#c0c0c0"/>
<rect x="1073" y="748" width="1" height="6" fill="#c0c0c0"/>
<rect x="1077" y="749" width="1" height="5" fill="#c0c0c0"/>
<rect x="1081" y="750" width="1" height="4" fill="#c0c0c0"/>
<rect x="1085" y="753" width="1" height="1" fill="#c0c0c0"/>
<rect x="1089" y="753" width="1" height="3" fill="#c0c0c0"/>
<rect x="1093" y="753" width="1" height="5" fill="#c0c0c0"/>
<rect x="1097" y="753" width="1" height="6" fill="#c0c0c0"/>
<rect x="1101" y="753" width="1" height="6" fill="#c0c0c0"/>
<rect x="1105" y="753" width="1" height="5" fill="#c0c0c0"/>
<rect x="1109" y="753" width="1" height="5" fill="#c0c0c0"/>
<rect x="1113" y="753" width="1" height="5" fill="#c0c0c0"/>
<rect x="1117" y="753" width="1" height="6" fill="#c0c0c0"/>
<rect x="1121" y="753" width="1" height="7" fill="#c0c0c0"/>
<rect x="1125" y="753" width="1" height="7" fill="#c0c0c0"/>
<rect x="1129" y="753" width="1" height="7" fill="#c0c0c0"/>
<rect x="1133" y="753" width="1" height="7" fill="#c0c0c0"/>
<rect x="1137" y="753" width="1" height="7" fill="#c0c0c0"/>
<rect x="1141" y="753" width="1" height="6" fill="#c0c0c0"/>
<rect x="1145" y="753" width="1" height="6" fill="#c0c0c0"/>
<rect x="1149" y="753" width="1" height="3" fill="#c0c0c0"/>
<rect x="1153" y="752" width="1" height="2" fill="#c0c0c0"/>
<rect x="1157" y="750" width="1" height="4" fill="#c0c0c0"/>
<rect x="1161" y="749" width="1" height="5" fill="#c0c0c0"/>
<rect x="1165" y="749" width="1" height="5" fill="#c0c0c0"/>
<rect x="1169" y="752" width="1" height="2" fill="#c0c0c0"/>
<rect x="1173" y="753" width="1" height="1" fill="#c0c0c0"/>
<rect x="1177" y="753" width="1" height="4" fill="#c0c0c0"/>
<rect x="1181" y="753" width="1" height="6" fill="#c0c0c0"/>
<rect x="1185" y="753" width="1" height="8" fill="#c0c0c0"/>
<rect x="1189" y="753" width="1" height="10" fill="#c0c0c0"/>
<rect x="1193" y="753" width="1" height="11" fill="#c0c0c0"/>
<rect x="1197" y="753" width="1" height="11" fill="#c0c0c0"/>
<rect x="1201" y="753" width="1" height="10" fill="#c0c0c0"/>
<rect x="1205" y="753" width="1" height="8" fill="#c0c0c0"/>
<rect x="1209" y="753" width="1" height="7" fill="#c0c0c0"/>
<rect x="1213" y="753" width="1" height="7" fill="#c0c0c0"/>
<rect x="1217" y="753" width="1" height="7" fill="#c0c0c0"/>
<rect x="1221" y="753" width="1" height="7" fill="#c0c0c0"/>
<rect x="1225" y="753" width="1" height="7" fill="#c0c0c0"/>
<rect x="1229" y="753" width="1" height="7" fill="#c0c0c0"/>
<rect x="1233" y="753" width="1" height="6" fill="#c0c0c0"/>
<rect x="1237" y="753" width="1" height="6" fill="#c0c0c0"/>
<rect x="1241" y="753" width="1" height="7" fill="#c0c0c0"/>
<rect x="1245" y="753" width="1" height="7" fill="#c0c0c0"/>
<rect x="1249" y="753" width="1" height="8" fill="#c0c0c0"/>
<rect x="1253" y="753" width="1" height="9" fill="#c0c0c0"/>
<rect x="1257" y="753" width="1" height="9" fill="#c0c0c0"/>
<rect x="1261" y="753" width="1" height="10" fill="#c0c0c0"/>
<rect x="1265" y="753" width="1" height="10" fill="#c0c0c0"/>
<polyline points="1.5,749.8 5.5,749.5 9.5,749.3 13.5,749.1 17.5,749.0 21.5,749.1 25.5,749.4 29.5,749.8 33.5,750.1 37.5,750.6 41.5,751.0 45.5,751.5 49.5,752.1 53.5,752.8 57.5,753.4 61.5,753.9 65.5,754.5 69.5,755.2 73.5,755.9 77.5,756.5 81.5,757.1 85.5,757.5 89.5,757.8 93.5,758.1 97.5,758.3 101.5,758.5 105.5,758.7 109.5,758.9 113.5,759.4 117.5,760.0 121.5,760.8 125.5,761.5 129.5,762.4 133.5,763.2 137.5,763.8 141.5,764.3 145.5,764.4 149.5,764.3 153.5,763.9 157.5,763.4 161.5,762.7 165.5,762.0 169.5,761.2 173.5,760.4 177.5,759.7 181.5,759.1 185.5,758.6 189.5,758.0 193.5,757.3 197.5,756.6 201.5,755.9 205.5,755.0 209.5,754.1 213.5,753.2 217.5,752.1 221.5,751.1 225.5,750.1 229.5,749.1 233.5,748.2 237.5,747.2 241.5,746.3 245.5,745.5 249.5,744.8 253.5,744.2 257.5,743.8 261.5,743.4 265.5,743.3 269.5,743.4 273.5,743.6 277.5,744.0 281.5,744.6 285.5,745.2 289.5,745.9 293.5,746.6 297.5,747.4 301.5,748.0 305.5,748.6 309.5,748.9 313.5,749.1 317.5,749.0 321.5,748.6 325.5,748.2 329.5,747.7 333.5,747.0 337.5,746.4 341.5,745.7 345.5,745.1 349.5,744.4 353.5,743.3 357.5,742.0 361.5,740.3 365.5,737.9 369.5,735.4 373.5,732.6 377.5,729.3 381.5,725.1 385.5,720.5 389.5,716.3 393.5,712.2 397.5,708.4 401.5,705.1 405.5,702.3 409.5,700.6 413.5,700.0 417.5,701.2 421.5,703.3 425.5,705.9 429.5,708.8 433.5,712.3 437.5,716.1 441.5,719.8 445.5,723.0 449.5,726.0 453.5,728.5 457.5,731.2 461.5,733.7 465.5,736.4 469.5,739.0 473.5,741.6 477.5,743.9 481.5,745.7 485.5,747.1 489.5,748.3 493.5,749.2 497.5,749.5 501.5,749.4 505.5,749.3 509.5,748.9 513.5,748.6 517.5,748.7 521.5,748.8 525.5,749.1 529.5,749.7 533.5,750.3 537.5,751.0 541.5,751.5 545.5,752.0 549.5,752.3 553.5,752.7 557.5,753.2 561.5,753.6 565.5,753.7 569.5,753.9 573.5,754.1 577.5,754.2 581.5,754.2 585.5,754.2 589.5,754.3 593.5,754.3 597.5,754.4 601.5,754.6 605.5,754.7 609.5,755.0 613.5,755.3 617.5,756.1 621.5,757.2 625.5,758.3 629.5,759.3 633.5,760.2 637.5,761.4 641.5,763.2 645.5,765.3 649.5,767.6 653.5,770.0 657.5,772.2 661.5,774.4 665.5,776.6 669.5,778.6 673.5,780.0 677.5,780.7 681.5,780.7 685.5,780.2 689.5,779.3 693.5,778.0 697.5,776.4 701.5,774.5 705.5,772.5 709.5,770.8 713.5,769.3 717.5,768.0 721.5,766.8 725.5,765.4 729.5,764.1 733.5,762.7 737.5,761.6 741.5,760.6 745.5,759.7 749.5,758.8 753.5,758.1 757.5,757.7 761.5,757.6 765.5,757.6 769.5,757.7 773.5,757.8 777.5,757.9 781.5,757.9 785.5,757.8 789.5,757.7 793.5,757.6 797.5,757.5 801.5,757.4 805.5,757.2 809.5,757.4 813.5,757.8 817.5,758.3 821.5,759.0 825.5,759.7 829.5,760.4 833.5,761.3 837.5,762.2 841.5,763.0 845.5,763.6 849.5,764.0 853.5,764.1 857.5,764.2 861.5,764.5 865.5,764.7 869.5,764.7 873.5,764.6 877.5,764.5 881.5,764.5 885.5,764.5 889.5,764.8 893.5,765.0 897.5,765.1 901.5,765.2 905.5,765.5 909.5,765.9 913.5,766.4 917.5,766.8 921.5,767.1 925.5,767.2 929.5,767.1 933.5,767.2 937.5,767.2 941.5,767.2 945.5,767.1 949.5,767.2 953.5,767.4 957.5,767.6 961.5,767.7 965.5,767.8 969.5,767.9 973.5,767.9 977.5,767.5 981.5,767.0 985.5,766.2 989.5,765.1 993.5,764.0 997.5,762.9 1001.5,761.7 1005.5,760.5 1009.5,759.3 1013.5,758.3 1017.5,757.4 1021.5,756.4 1025.5,755.4 1029.5,754.3 1033.5,753.1 1037.5,751.7 1041.5,750.3 1045.5,749.0 1049.5,747.5 1053.5,746.3 1057.5,745.4 1061.5,744.8 1065.5,744.5 1069.5,744.5 1073.5,744.9 1077.5,745.5 1081.5,746.3 1085.5,747.5 1089.5,748.9 1093.5,750.3 1097.5,751.8 1101.5,753.2 1105.5,754.4 1109.5,755.5 1113.5,756.4 1117.5,757.3 1121.5,757.9 1125.5,758.4 1129.5,758.6 1133.5,758.7 1137.5,758.8 1141.5,758.8 1145.5,758.9 1149.5,758.6 1153.5,758.0 1157.5,757.0 1161.5,756.0 1165.5,754.8 1169.5,754.0 1173.5,753.3 1177.5,753.2 1181.5,753.2 1185.5,753.8 1189.5,755.0 1193.5,756.4 1197.5,757.9 1201.5,759.3 1205.5,760.3 1209.5,760.9 1213.5,761.3 1217.5,761.4 1221.5,761.3 1225.5,760.9 1229.5,760.4 1233.5,759.9 1237.5,759.5 1241.5,759.3 1245.5,759.3 1249.5,759.4 1253.5,759.5 1257.5,759.7 1261.5,760.0 1265.5,760.4" fill="none" stroke="#ff0000" stroke-width="1" stroke-dasharray="3,3"/>
</g>
<rect x="1594" y="690" width="1" height="1" fill="#000"/>
<rect x="1594" y="753" width="1" height="1" fill="#000"/>
<rect x="1594" y="788" width="1" height="1" fill="#000"/>
<text x="1597" y="699" font-size="9.8" fill="#000" color="#000" textLength="38.5" lengthAdjust="spacingAndGlyphs">0.032972</text>
<text x="1597" y="757" font-size="9.8" fill="#000" color="#000" textLength="18" lengthAdjust="spacingAndGlyphs">0.00</text>
<text x="1597" y="786" font-size="9.8" fill="#000" color="#000" textLength="43" lengthAdjust="spacingAndGlyphs">-0.018154</text>
<text x="5" y="701" font-size="9.8" fill="#000" color="#000" textLength="154" lengthAdjust="spacingAndGlyphs">MACD(12,26,9) -0.004489 -0.003528</text>
<rect x="1" y="790" width="1" height="3" fill="#000"/>
<text x="0" y="802" font-size="9.8" fill="#000" color="#000" textLength="54.4" lengthAdjust="spacingAndGlyphs">28 Nov 2019</text>
<rect x="65" y="790" width="1" height="3" fill="#000"/>
<text x="64" y="802" font-size="9.8" fill="#000" color="#000" textLength="51.6" lengthAdjust="spacingAndGlyphs">17 Dec 2019</text>
<rect x="129" y="790" width="1" height="3" fill="#000"/>
<text x="128" y="802" font-size="9.8" fill="#000" color="#000" textLength="45.2" lengthAdjust="spacingAndGlyphs">4 Jan 2020</text>
<rect x="193" y="790" width="1" height="3" fill="#000"/>
<text x="192" y="802" font-size="9.8" fill="#000" color="#000" textLength="50.2" lengthAdjust="spacingAndGlyphs">23 Jan 2020</text>
<rect x="257" y="790" width="1" height="3" fill="#000"/>
<text x="256" y="802" font-size="9.8" fill="#000" color="#000" textLength="52.2" lengthAdjust="spacingAndGlyphs">11 Feb 2020</text>
<rect x="321" y="790" width="1" height="3" fill="#000"/>
<text x="320" y="802" font-size="9.8" fill="#000" color="#000" textLength="52.0" lengthAdjust="spacingAndGlyphs">29 Feb 2020</text>
<rect x="385" y="790" width="1" height="3" fill="#000"/>
<text x="384" y="802" font-size="9.8" fill="#000" color="#000" textLength="52.1" lengthAdjust="spacingAndGlyphs">19 Mar 2020</text>
<rect x="449" y="790" width="1" height="3" fill="#000"/>
<text x="448" y="802" font-size="9.8" fill="#000" color="#000" textLength="46.3" lengthAdjust="spacingAndGlyphs">7 Apr 2020</text>
<rect x="513" y="790" width="1" height="3" fill="#000"/>
<text x="512" y="802" font-size="9.8" fill="#000" color="#000" textLength="51.2" lengthAdjust="spacingAndGlyphs">25 Apr 2020</text>
<rect x="577" y="790" width="1" height="3" fill="#000"/>
<text x="576" y="802" font-size="9.8" fill="#000" color="#000" textLength="55.2" lengthAdjust="spacingAndGlyphs">14 May 2020</text>
<rect x="641" y="790" width="1" height="3" fill="#000"/>
<text x="640" y="802" font-size="9.8" fill="#000" color="#000" textLength="45.5" lengthAdjust="spacingAndGlyphs">2 Jun 2020</text>
<rect x="705" y="790" width="1" height="3" fill="#000"/>
<text x="704" y="802" font-size="9.8" fill="#000" color="#000" textLength="50.5" lengthAdjust="spacingAndGlyphs">20 Jun 2020</text>
<rect x="769" y="790" width="1" height="3" fill="#000"/>
<text x="768" y="802" font-size="9.8" fill="#000" color="#000" textLength="42.2" lengthAdjust="spacingAndGlyphs">9 Jul 2020</text>
<rect x="833" y="790" width="1" height="3" fill="#000"/>
<text x="832" y="802" font-size="9.8" fill="#000" color="#000" textLength="47.2" lengthAdjust="spacingAndGlyphs">28 Jul 2020</text>
<rect x="897" y="790" width="1" height="3" fill="#000"/>
<text x="896" y="802" font-size="9.8" fill="#000" color="#000" textLength="53.6" lengthAdjust="spacingAndGlyphs">15 Aug 2020</text>
<rect x="961" y="790" width="1" height="3" fill="#000"/>
<text x="960" y="802" font-size="9.8" fill="#000" color="#000" textLength="47.3" lengthAdjust="spacingAndGlyphs">3 Sep 2020</text>
<rect x="1025" y="790" width="1" height="3" fill="#000"/>
<text x="1024" y="802" font-size="9.8" fill="#000" color="#000" textLength="52.5" lengthAdjust="spacingAndGlyphs">22 Sep 2020</text>
<rect x="1089" y="790" width="1" height="3" fill="#000"/>
<text x="1088" y="802" font-size="9.8" fill="#000" color="#000" textLength="51.4" lengthAdjust="spacingAndGlyphs">10 Oct 2020</text>
<rect x="1153" y="790" width="1" height="3" fill="#000"/>
<text x="1152" y="802" font-size="9.8" fill="#000" color="#000" textLength="51.2" lengthAdjust="spacingAndGlyphs">29 Oct 2020</text>
<rect x="1217" y="790" width="1" height="3" fill="#000"/>
<text x="1216" y="802" font-size="9.8" fill="#000" color="#000" textLength="54.4" lengthAdjust="spacingAndGlyphs">17 Nov 2020</text>
<path d="M4 33 L11 33 L7.5 37 Z" fill="#000" shape-rendering="auto"/>
<text x="16" y="38" font-size="9.8" fill="#000" color="#000" textLength="65.5" lengthAdjust="spacingAndGlyphs">USDCAD,Daily</text>
<text x="88" y="38" font-size="9.8" fill="#000" color="#000" textLength="140.5" lengthAdjust="spacingAndGlyphs">1.29582 1.30086 1.29567 1.29802</text>
<rect x="0" y="810" width="1636" height="1" fill="#e3e3e3"/>
<rect x="0" y="812" width="1636" height="1" fill="#000"/>
<rect x="0" y="813" width="1636" height="19" fill="#f0f0f0"/>
<rect x="0" y="832" width="1636" height="1" fill="#fff"/>
<rect x="0" y="833" width="1636" height="3" fill="#f0f0f0"/>
<rect x="0" y="836" width="1636" height="1" fill="#a0a0a0"/>
<rect x="185" y="837" width="1" height="3" fill="#e3e3e3"/>
<rect x="315" y="837" width="1" height="3" fill="#e3e3e3"/>
<rect x="416" y="837" width="1" height="3" fill="#e3e3e3"/>
<rect x="546" y="837" width="1" height="3" fill="#e3e3e3"/>
<rect x="691" y="837" width="1" height="3" fill="#e3e3e3"/>
<rect x="836" y="837" width="1" height="3" fill="#e3e3e3"/>
<rect x="981" y="837" width="1" height="3" fill="#e3e3e3"/>
<rect x="1126" y="837" width="1" height="3" fill="#e3e3e3"/>
<rect x="1271" y="837" width="1" height="3" fill="#e3e3e3"/>
<rect x="1416" y="837" width="1" height="3" fill="#e3e3e3"/>
<rect x="106" y="815" width="1" height="14" fill="#505050"/>
<rect x="206" y="815" width="1" height="14" fill="#505050"/>
<rect x="518" y="815" width="1" height="14" fill="#505050"/>
<rect x="622" y="815" width="1" height="14" fill="#505050"/>
<rect x="714" y="815" width="1" height="14" fill="#505050"/>
<rect x="807" y="815" width="1" height="14" fill="#505050"/>
<rect x="878" y="815" width="1" height="14" fill="#505050"/>
<rect x="958" y="815" width="1" height="14" fill="#505050"/>
<rect x="1038" y="815" width="1" height="14" fill="#505050"/>
<rect x="1118" y="815" width="1" height="14" fill="#505050"/>
<rect x="1194" y="815" width="1" height="14" fill="#505050"/>
<rect x="1278" y="815" width="1" height="14" fill="#505050"/>
<rect x="1362" y="815" width="1" height="14" fill="#505050"/>
<rect x="1442" y="815" width="1" height="14" fill="#505050"/>
<rect x="1542" y="815" width="1" height="14" fill="#505050"/>
<rect x="310" y="812" width="104" height="19" fill="#fff"/>
<rect x="310" y="812" width="1" height="19" fill="#000"/><rect x="413" y="812" width="1" height="19" fill="#000"/><rect x="310" y="830" width="104" height="1" fill="#000"/>
<text x="14.3" y="827" font-size="12.5" fill="#6a6a6a" color="#6a6a6a" textLength="79.7" lengthAdjust="spacingAndGlyphs" style="stroke-width:0">EURUSD,Daily</text>
<text x="116.5" y="827" font-size="12.5" fill="#6a6a6a" color="#6a6a6a" textLength="78.5" lengthAdjust="spacingAndGlyphs" style="stroke-width:0">USDCHF,Daily</text>
<text x="217.5" y="827" font-size="12.5" fill="#6a6a6a" color="#6a6a6a" textLength="81.2" lengthAdjust="spacingAndGlyphs" style="stroke-width:0">AUDUSD,Daily</text>
<text x="321.6" y="827" font-size="12.5" fill="#000" color="#000" textLength="80.2" lengthAdjust="spacingAndGlyphs" style="stroke-width:0">USDCAD,Daily</text>
<text x="424.4" y="827" font-size="12.5" fill="#6a6a6a" color="#6a6a6a" textLength="82.1" lengthAdjust="spacingAndGlyphs" style="stroke-width:0">USDCNH,Daily</text>
<text x="530.4" y="827" font-size="12.5" fill="#6a6a6a" color="#6a6a6a" textLength="79.6" lengthAdjust="spacingAndGlyphs" style="stroke-width:0">EURUSD,Daily</text>
<text x="634" y="827" font-size="12.5" fill="#6a6a6a" color="#6a6a6a" textLength="67.7" lengthAdjust="spacingAndGlyphs" style="stroke-width:0">GBPUSD,H4</text>
<text x="725.5" y="827" font-size="12.5" fill="#6a6a6a" color="#6a6a6a" textLength="67.8" lengthAdjust="spacingAndGlyphs" style="stroke-width:0">XAUUSD,H1</text>
<text x="817.5" y="827" font-size="12.5" fill="#6a6a6a" color="#6a6a6a" textLength="49.3" lengthAdjust="spacingAndGlyphs" style="stroke-width:0">HK50,H1</text>
<text x="889.3" y="827" font-size="12.5" fill="#6a6a6a" color="#6a6a6a" textLength="56.5" lengthAdjust="spacingAndGlyphs" style="stroke-width:0">UK100,H1</text>
<text x="969.4" y="827" font-size="12.5" fill="#6a6a6a" color="#6a6a6a" textLength="56.5" lengthAdjust="spacingAndGlyphs" style="stroke-width:0">UK100,H1</text>
<text x="1049.5" y="827" font-size="12.5" fill="#6a6a6a" color="#6a6a6a" textLength="56.0" lengthAdjust="spacingAndGlyphs" style="stroke-width:0">GER30,H1</text>
<text x="1128.6" y="827" font-size="12.5" fill="#6a6a6a" color="#6a6a6a" textLength="53.9" lengthAdjust="spacingAndGlyphs" style="stroke-width:0">FRA40,H1</text>
<text x="1204.2" y="827" font-size="12.5" fill="#6a6a6a" color="#6a6a6a" textLength="62.4" lengthAdjust="spacingAndGlyphs" style="stroke-width:0">USOil,Daily</text>
<text x="1288" y="827" font-size="12.5" fill="#6a6a6a" color="#6a6a6a" textLength="62.6" lengthAdjust="spacingAndGlyphs" style="stroke-width:0">USDJPY,H1</text>
<text x="1372.7" y="827" font-size="12.5" fill="#6a6a6a" color="#6a6a6a" textLength="57.8" lengthAdjust="spacingAndGlyphs" style="stroke-width:0">DJ30,Daily</text>
<text x="1451.9" y="827" font-size="12.5" fill="#6a6a6a" color="#6a6a6a" textLength="78.6" lengthAdjust="spacingAndGlyphs" style="stroke-width:0">CHINA300,H1</text>
<text x="1552.3" y="827" font-size="12.5" fill="#6a6a6a" color="#6a6a6a" textLength="50.1" lengthAdjust="spacingAndGlyphs" style="stroke-width:0">USOil,H1</text>
<path d="M1612.5 817.5 L1608.5 821 L1612.5 824.5 Z" fill="#a0a0a0" shape-rendering="auto"/>
<path d="M1628 817.5 L1632 821 L1628 824.5 Z" fill="#000" shape-rendering="auto"/>
</svg></body></html>
